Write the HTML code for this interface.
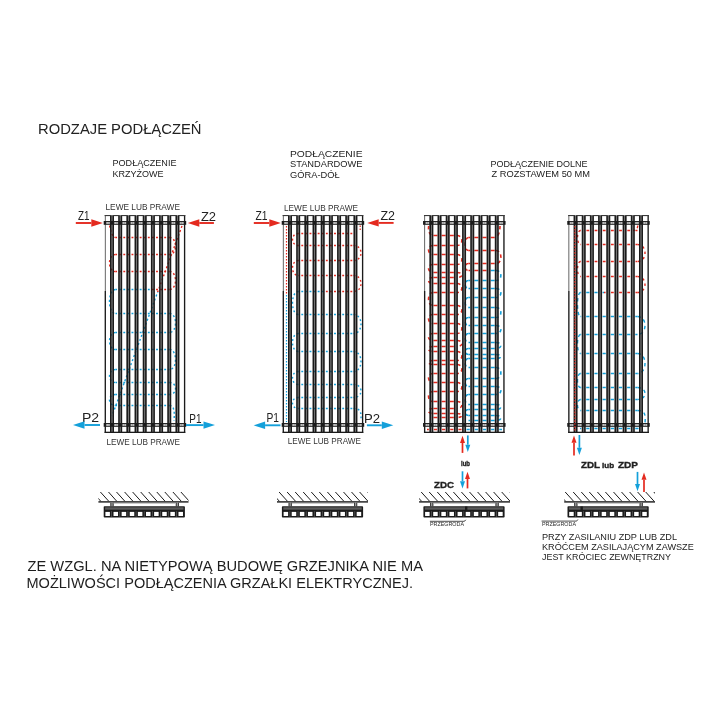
<!DOCTYPE html><html><head><meta charset="utf-8"><style>html,body{margin:0;padding:0;background:#fff;}svg{display:block;will-change:transform;}text{font-family:"Liberation Sans",sans-serif;}</style></head><body>
<svg width="720" height="720" viewBox="0 0 720 720">
<rect width="720" height="720" fill="#fff"/>
<text x="37.99" y="134.2" font-size="14.5" fill="#222" textLength="163.52" lengthAdjust="spacingAndGlyphs">RODZAJE PODŁĄCZEŃ</text>
<text x="112.49" y="165.8" font-size="8.7" fill="#222" textLength="64.01" lengthAdjust="spacingAndGlyphs">PODŁĄCZENIE</text>
<text x="112.47" y="176.8" font-size="8.7" fill="#222" textLength="51.04" lengthAdjust="spacingAndGlyphs">KRZYŻOWE</text>
<text x="289.98" y="156.5" font-size="8.5" fill="#222" textLength="72.53" lengthAdjust="spacingAndGlyphs">PODŁĄCZENIE</text>
<text x="289.99" y="167.25" font-size="8.5" fill="#222" textLength="72.51" lengthAdjust="spacingAndGlyphs">STANDARDOWE</text>
<text x="289.99" y="177.5" font-size="8.5" fill="#222" textLength="49.78" lengthAdjust="spacingAndGlyphs">GÓRA-DÓŁ</text>
<text x="490.49" y="166.7" font-size="8.6" fill="#222" textLength="97.01" lengthAdjust="spacingAndGlyphs">PODŁĄCZENIE DOLNE</text>
<text x="491.50" y="177.0" font-size="8.6" fill="#222" textLength="98.51" lengthAdjust="spacingAndGlyphs">Z ROZSTAWEM 50 MM</text>
<text x="105.49" y="209.9" font-size="8.3" fill="#333" textLength="74.52" lengthAdjust="spacingAndGlyphs">LEWE LUB PRAWE</text>
<text x="106.49" y="444.6" font-size="8.3" fill="#333" textLength="73.51" lengthAdjust="spacingAndGlyphs">LEWE LUB PRAWE</text>
<text x="284.00" y="210.5" font-size="8.3" fill="#333" textLength="74.00" lengthAdjust="spacingAndGlyphs">LEWE LUB PRAWE</text>
<text x="287.74" y="443.75" font-size="8.3" fill="#333" textLength="73.26" lengthAdjust="spacingAndGlyphs">LEWE LUB PRAWE</text>
<text x="78.00" y="220.3" font-size="12.2" fill="#222" textLength="11.53" lengthAdjust="spacingAndGlyphs">Z1</text>
<text x="200.93" y="220.7" font-size="12.2" fill="#222" textLength="15.12" lengthAdjust="spacingAndGlyphs">Z2</text>
<text x="81.90" y="421.7" font-size="12.2" fill="#222" textLength="17.19" lengthAdjust="spacingAndGlyphs">P2</text>
<text x="189.36" y="422.8" font-size="12.2" fill="#222" textLength="12.22" lengthAdjust="spacingAndGlyphs">P1</text>
<text x="255.48" y="219.9" font-size="12.2" fill="#222" textLength="12.03" lengthAdjust="spacingAndGlyphs">Z1</text>
<text x="380.47" y="219.6" font-size="12.2" fill="#222" textLength="14.53" lengthAdjust="spacingAndGlyphs">Z2</text>
<text x="266.42" y="421.7" font-size="12.2" fill="#222" textLength="12.55" lengthAdjust="spacingAndGlyphs">P1</text>
<text x="363.93" y="422.8" font-size="12.2" fill="#222" textLength="16.07" lengthAdjust="spacingAndGlyphs">P2</text>
<text x="461.00" y="465.5" font-size="6.6" font-weight="bold" stroke="#222" stroke-width="0.35" fill="#222" textLength="9.04" lengthAdjust="spacingAndGlyphs">lub</text>
<text x="434.00" y="488.4" font-size="9.4" font-weight="bold" stroke="#222" stroke-width="0.35" fill="#222" textLength="20.00" lengthAdjust="spacingAndGlyphs">ZDC</text>
<text x="581.00" y="468.1" font-size="9.2" font-weight="bold" stroke="#222" stroke-width="0.35" fill="#222" textLength="19.03" lengthAdjust="spacingAndGlyphs">ZDL</text>
<text x="602.00" y="468.1" font-size="7.6" font-weight="bold" stroke="#222" stroke-width="0.35" fill="#222" textLength="12.05" lengthAdjust="spacingAndGlyphs">lub</text>
<text x="618.00" y="468.1" font-size="9.2" font-weight="bold" stroke="#222" stroke-width="0.35" fill="#222" textLength="20.00" lengthAdjust="spacingAndGlyphs">ZDP</text>
<text x="429.99" y="525.6" font-size="5.9" fill="#2a2a2a" textLength="34.01" lengthAdjust="spacingAndGlyphs">PRZEGRODA</text>
<text x="541.97" y="525.6" font-size="5.9" fill="#2a2a2a" textLength="34.04" lengthAdjust="spacingAndGlyphs">PRZEGRODA</text>
<text x="541.99" y="539.5" font-size="9.0" fill="#222" textLength="135.02" lengthAdjust="spacingAndGlyphs">PRZY ZASILANIU ZDP LUB ZDL</text>
<text x="542.00" y="549.6" font-size="9.0" fill="#222" textLength="151.75" lengthAdjust="spacingAndGlyphs">KRÓĆCEM ZASILAJĄCYM ZAWSZE</text>
<text x="542.00" y="559.6" font-size="9.0" fill="#222" textLength="129.00" lengthAdjust="spacingAndGlyphs">JEST KRÓCIEC ZEWNĘTRZNY</text>
<text x="27.50" y="570.7" font-size="14.2" fill="#1e1e1e" textLength="395.50" lengthAdjust="spacingAndGlyphs">ZE WZGL. NA NIETYPOWĄ BUDOWĘ GRZEJNIKA NIE MA</text>
<text x="26.50" y="587.5" font-size="14.2" fill="#1e1e1e" textLength="386.51" lengthAdjust="spacingAndGlyphs">MOŻLIWOŚCI PODŁĄCZENIA GRZAŁKI ELEKTRYCZNEJ.</text>
<path d="M429.9,521.3 H464 Q465,521.3 465.8,519.8" stroke="#3a3a3a" stroke-width="0.9" fill="none"/>
<path d="M541.6,521.1 H576.2 Q577.2,521.1 577.9,519.5" stroke="#3a3a3a" stroke-width="0.9" fill="none"/>
<clipPath id="r1red"><rect x="0" y="0" width="720" height="288"/><rect x="150" y="288" width="60" height="4"/></clipPath>
<clipPath id="r1blue"><rect x="0" y="292" width="720" height="200"/><rect x="100" y="286" width="50" height="6"/></clipPath>
<g clip-path="url(#r1red)"><path d="M115.5,237.5 H169.5" fill="none" stroke="#e42a1f" stroke-width="1.4" stroke-dasharray="1.9 2.19" stroke-dashoffset="0.36"/><path d="M115.5,254.5 H169.5" fill="none" stroke="#e42a1f" stroke-width="1.4" stroke-dasharray="1.9 2.19" stroke-dashoffset="0.36"/><path d="M115.5,271.5 H169.5" fill="none" stroke="#e42a1f" stroke-width="1.4" stroke-dasharray="1.9 2.19" stroke-dashoffset="0.36"/><path d="M115.5,289.5 H169.5" fill="none" stroke="#e42a1f" stroke-width="1.4" stroke-dasharray="1.9 2.19" stroke-dashoffset="0.36"/><path d="M115.5,313.5 H169.5" fill="none" stroke="#e42a1f" stroke-width="1.4" stroke-dasharray="1.9 2.19" stroke-dashoffset="0.36"/><path d="M115.5,332.5 H169.5" fill="none" stroke="#e42a1f" stroke-width="1.4" stroke-dasharray="1.9 2.19" stroke-dashoffset="0.36"/><path d="M115.5,349.5 H169.5" fill="none" stroke="#e42a1f" stroke-width="1.4" stroke-dasharray="1.9 2.19" stroke-dashoffset="0.36"/><path d="M115.5,369.5 H169.5" fill="none" stroke="#e42a1f" stroke-width="1.4" stroke-dasharray="1.9 2.19" stroke-dashoffset="0.36"/><path d="M115.5,382.5 H169.5" fill="none" stroke="#e42a1f" stroke-width="1.4" stroke-dasharray="1.9 2.19" stroke-dashoffset="0.36"/><path d="M115.5,394.5 H169.5" fill="none" stroke="#e42a1f" stroke-width="1.4" stroke-dasharray="1.9 2.19" stroke-dashoffset="0.36"/><path d="M115.5,405.5 H169.5" fill="none" stroke="#e42a1f" stroke-width="1.4" stroke-dasharray="1.9 2.19" stroke-dashoffset="0.36"/><path d="M169.5,237.5 C177.5,237.5 177.5,254.5 169.5,254.5" fill="none" stroke="#e42a1f" stroke-width="1.4" stroke-dasharray="2 2.3"/><path d="M115.5,254.5 C107.5,254.5 107.5,271.5 115.5,271.5" fill="none" stroke="#e42a1f" stroke-width="1.4" stroke-dasharray="2 2.3"/><path d="M169.5,271.5 C177.5,271.5 177.5,289.5 169.5,289.5" fill="none" stroke="#e42a1f" stroke-width="1.4" stroke-dasharray="2 2.3"/><path d="M115.5,289.5 C107.5,289.5 107.5,313.5 115.5,313.5" fill="none" stroke="#e42a1f" stroke-width="1.4" stroke-dasharray="2 2.3"/><path d="M169.5,313.5 C177.5,313.5 177.5,332.5 169.5,332.5" fill="none" stroke="#e42a1f" stroke-width="1.4" stroke-dasharray="2 2.3"/><path d="M115.5,332.5 C107.5,332.5 107.5,349.5 115.5,349.5" fill="none" stroke="#e42a1f" stroke-width="1.4" stroke-dasharray="2 2.3"/><path d="M169.5,349.5 C177.5,349.5 177.5,369.5 169.5,369.5" fill="none" stroke="#e42a1f" stroke-width="1.4" stroke-dasharray="2 2.3"/><path d="M115.5,369.5 C107.5,369.5 107.5,382.5 115.5,382.5" fill="none" stroke="#e42a1f" stroke-width="1.4" stroke-dasharray="2 2.3"/><path d="M169.5,382.5 C177.5,382.5 177.5,394.5 169.5,394.5" fill="none" stroke="#e42a1f" stroke-width="1.4" stroke-dasharray="2 2.3"/><path d="M115.5,394.5 C107.5,394.5 107.5,405.5 115.5,405.5" fill="none" stroke="#e42a1f" stroke-width="1.4" stroke-dasharray="2 2.3"/><path d="M109.6,225.5 C111,233 113,237.5 115.5,237.5" fill="none" stroke="#e42a1f" stroke-width="1.4" stroke-dasharray="2 2.3"/><path d="M169.5,405.5 C175,405.5 174.5,414 174,421" fill="none" stroke="#e42a1f" stroke-width="1.4" stroke-dasharray="2 2.3"/><path d="M182,226 L112,416" fill="none" stroke="#e42a1f" stroke-width="1.4" stroke-dasharray="2 2.3"/></g>
<g clip-path="url(#r1blue)"><path d="M115.5,237.5 H169.5" fill="none" stroke="#14a0da" stroke-width="1.4" stroke-dasharray="1.9 2.19" stroke-dashoffset="0.36"/><path d="M115.5,254.5 H169.5" fill="none" stroke="#14a0da" stroke-width="1.4" stroke-dasharray="1.9 2.19" stroke-dashoffset="0.36"/><path d="M115.5,271.5 H169.5" fill="none" stroke="#14a0da" stroke-width="1.4" stroke-dasharray="1.9 2.19" stroke-dashoffset="0.36"/><path d="M115.5,289.5 H169.5" fill="none" stroke="#14a0da" stroke-width="1.4" stroke-dasharray="1.9 2.19" stroke-dashoffset="0.36"/><path d="M115.5,313.5 H169.5" fill="none" stroke="#14a0da" stroke-width="1.4" stroke-dasharray="1.9 2.19" stroke-dashoffset="0.36"/><path d="M115.5,332.5 H169.5" fill="none" stroke="#14a0da" stroke-width="1.4" stroke-dasharray="1.9 2.19" stroke-dashoffset="0.36"/><path d="M115.5,349.5 H169.5" fill="none" stroke="#14a0da" stroke-width="1.4" stroke-dasharray="1.9 2.19" stroke-dashoffset="0.36"/><path d="M115.5,369.5 H169.5" fill="none" stroke="#14a0da" stroke-width="1.4" stroke-dasharray="1.9 2.19" stroke-dashoffset="0.36"/><path d="M115.5,382.5 H169.5" fill="none" stroke="#14a0da" stroke-width="1.4" stroke-dasharray="1.9 2.19" stroke-dashoffset="0.36"/><path d="M115.5,394.5 H169.5" fill="none" stroke="#14a0da" stroke-width="1.4" stroke-dasharray="1.9 2.19" stroke-dashoffset="0.36"/><path d="M115.5,405.5 H169.5" fill="none" stroke="#14a0da" stroke-width="1.4" stroke-dasharray="1.9 2.19" stroke-dashoffset="0.36"/><path d="M169.5,237.5 C177.5,237.5 177.5,254.5 169.5,254.5" fill="none" stroke="#14a0da" stroke-width="1.4" stroke-dasharray="2 2.3"/><path d="M115.5,254.5 C107.5,254.5 107.5,271.5 115.5,271.5" fill="none" stroke="#14a0da" stroke-width="1.4" stroke-dasharray="2 2.3"/><path d="M169.5,271.5 C177.5,271.5 177.5,289.5 169.5,289.5" fill="none" stroke="#14a0da" stroke-width="1.4" stroke-dasharray="2 2.3"/><path d="M115.5,289.5 C107.5,289.5 107.5,313.5 115.5,313.5" fill="none" stroke="#14a0da" stroke-width="1.4" stroke-dasharray="2 2.3"/><path d="M169.5,313.5 C177.5,313.5 177.5,332.5 169.5,332.5" fill="none" stroke="#14a0da" stroke-width="1.4" stroke-dasharray="2 2.3"/><path d="M115.5,332.5 C107.5,332.5 107.5,349.5 115.5,349.5" fill="none" stroke="#14a0da" stroke-width="1.4" stroke-dasharray="2 2.3"/><path d="M169.5,349.5 C177.5,349.5 177.5,369.5 169.5,369.5" fill="none" stroke="#14a0da" stroke-width="1.4" stroke-dasharray="2 2.3"/><path d="M115.5,369.5 C107.5,369.5 107.5,382.5 115.5,382.5" fill="none" stroke="#14a0da" stroke-width="1.4" stroke-dasharray="2 2.3"/><path d="M169.5,382.5 C177.5,382.5 177.5,394.5 169.5,394.5" fill="none" stroke="#14a0da" stroke-width="1.4" stroke-dasharray="2 2.3"/><path d="M115.5,394.5 C107.5,394.5 107.5,405.5 115.5,405.5" fill="none" stroke="#14a0da" stroke-width="1.4" stroke-dasharray="2 2.3"/><path d="M109.6,225.5 C111,233 113,237.5 115.5,237.5" fill="none" stroke="#14a0da" stroke-width="1.4" stroke-dasharray="2 2.3"/><path d="M169.5,405.5 C175,405.5 174.5,414 174,421" fill="none" stroke="#14a0da" stroke-width="1.4" stroke-dasharray="2 2.3"/><path d="M182,226 L112,416" fill="none" stroke="#14a0da" stroke-width="1.4" stroke-dasharray="2 2.3"/></g>
<clipPath id="r2red"><rect x="0" y="0" width="720" height="289"/><rect x="325" y="289" width="60" height="5"/></clipPath>
<clipPath id="r2blue"><rect x="0" y="294" width="720" height="200"/><rect x="250" y="289" width="75" height="5"/></clipPath>
<g clip-path="url(#r2red)"><path d="M298.5,233.5 H353.5" fill="none" stroke="#e42a1f" stroke-width="1.4" stroke-dasharray="1.9 2.19" stroke-dashoffset="1.27"/><path d="M298.5,245.5 H353.5" fill="none" stroke="#e42a1f" stroke-width="1.4" stroke-dasharray="1.9 2.19" stroke-dashoffset="1.27"/><path d="M298.5,260.5 H353.5" fill="none" stroke="#e42a1f" stroke-width="1.4" stroke-dasharray="1.9 2.19" stroke-dashoffset="1.27"/><path d="M298.5,275.5 H353.5" fill="none" stroke="#e42a1f" stroke-width="1.4" stroke-dasharray="1.9 2.19" stroke-dashoffset="1.27"/><path d="M298.5,291.5 H353.5" fill="none" stroke="#e42a1f" stroke-width="1.4" stroke-dasharray="1.9 2.19" stroke-dashoffset="1.27"/><path d="M298.5,314.5 H353.5" fill="none" stroke="#e42a1f" stroke-width="1.4" stroke-dasharray="1.9 2.19" stroke-dashoffset="1.27"/><path d="M298.5,333.5 H353.5" fill="none" stroke="#e42a1f" stroke-width="1.4" stroke-dasharray="1.9 2.19" stroke-dashoffset="1.27"/><path d="M298.5,351.5 H353.5" fill="none" stroke="#e42a1f" stroke-width="1.4" stroke-dasharray="1.9 2.19" stroke-dashoffset="1.27"/><path d="M298.5,371.5 H353.5" fill="none" stroke="#e42a1f" stroke-width="1.4" stroke-dasharray="1.9 2.19" stroke-dashoffset="1.27"/><path d="M298.5,384.5 H353.5" fill="none" stroke="#e42a1f" stroke-width="1.4" stroke-dasharray="1.9 2.19" stroke-dashoffset="1.27"/><path d="M298.5,397.5 H353.5" fill="none" stroke="#e42a1f" stroke-width="1.4" stroke-dasharray="1.9 2.19" stroke-dashoffset="1.27"/><path d="M298.5,408.5 H353.5" fill="none" stroke="#e42a1f" stroke-width="1.4" stroke-dasharray="1.9 2.19" stroke-dashoffset="1.27"/><path d="M298.5,233.5 C290.5,233.5 290.5,245.5 298.5,245.5" fill="none" stroke="#e42a1f" stroke-width="1.4" stroke-dasharray="1.8 2.5"/><path d="M353.5,245.5 C363.5,245.5 363.5,260.5 353.5,260.5" fill="none" stroke="#e42a1f" stroke-width="1.4" stroke-dasharray="1.8 2.5"/><path d="M298.5,260.5 C290.5,260.5 290.5,275.5 298.5,275.5" fill="none" stroke="#e42a1f" stroke-width="1.4" stroke-dasharray="1.8 2.5"/><path d="M353.5,275.5 C363.5,275.5 363.5,291.5 353.5,291.5" fill="none" stroke="#e42a1f" stroke-width="1.4" stroke-dasharray="1.8 2.5"/><path d="M298.5,291.5 C290.5,291.5 290.5,314.5 298.5,314.5" fill="none" stroke="#e42a1f" stroke-width="1.4" stroke-dasharray="1.8 2.5"/><path d="M353.5,314.5 C363.5,314.5 363.5,333.5 353.5,333.5" fill="none" stroke="#e42a1f" stroke-width="1.4" stroke-dasharray="1.8 2.5"/><path d="M298.5,333.5 C290.5,333.5 290.5,351.5 298.5,351.5" fill="none" stroke="#e42a1f" stroke-width="1.4" stroke-dasharray="1.8 2.5"/><path d="M353.5,351.5 C363.5,351.5 363.5,371.5 353.5,371.5" fill="none" stroke="#e42a1f" stroke-width="1.4" stroke-dasharray="1.8 2.5"/><path d="M298.5,371.5 C290.5,371.5 290.5,384.5 298.5,384.5" fill="none" stroke="#e42a1f" stroke-width="1.4" stroke-dasharray="1.8 2.5"/><path d="M353.5,384.5 C363.5,384.5 363.5,397.5 353.5,397.5" fill="none" stroke="#e42a1f" stroke-width="1.4" stroke-dasharray="1.8 2.5"/><path d="M298.5,397.5 C290.5,397.5 290.5,408.5 298.5,408.5" fill="none" stroke="#e42a1f" stroke-width="1.4" stroke-dasharray="1.8 2.5"/><path d="M353.5,408.5 C362,408.5 361,414 361,421" fill="none" stroke="#e42a1f" stroke-width="1.4" stroke-dasharray="1.8 2.5"/><path d="M360.2,225.5 V230" fill="none" stroke="#e42a1f" stroke-width="1.2" stroke-dasharray="1.6 1.4"/></g>
<g clip-path="url(#r2blue)"><path d="M298.5,233.5 H353.5" fill="none" stroke="#14a0da" stroke-width="1.4" stroke-dasharray="1.9 2.19" stroke-dashoffset="1.27"/><path d="M298.5,245.5 H353.5" fill="none" stroke="#14a0da" stroke-width="1.4" stroke-dasharray="1.9 2.19" stroke-dashoffset="1.27"/><path d="M298.5,260.5 H353.5" fill="none" stroke="#14a0da" stroke-width="1.4" stroke-dasharray="1.9 2.19" stroke-dashoffset="1.27"/><path d="M298.5,275.5 H353.5" fill="none" stroke="#14a0da" stroke-width="1.4" stroke-dasharray="1.9 2.19" stroke-dashoffset="1.27"/><path d="M298.5,291.5 H353.5" fill="none" stroke="#14a0da" stroke-width="1.4" stroke-dasharray="1.9 2.19" stroke-dashoffset="1.27"/><path d="M298.5,314.5 H353.5" fill="none" stroke="#14a0da" stroke-width="1.4" stroke-dasharray="1.9 2.19" stroke-dashoffset="1.27"/><path d="M298.5,333.5 H353.5" fill="none" stroke="#14a0da" stroke-width="1.4" stroke-dasharray="1.9 2.19" stroke-dashoffset="1.27"/><path d="M298.5,351.5 H353.5" fill="none" stroke="#14a0da" stroke-width="1.4" stroke-dasharray="1.9 2.19" stroke-dashoffset="1.27"/><path d="M298.5,371.5 H353.5" fill="none" stroke="#14a0da" stroke-width="1.4" stroke-dasharray="1.9 2.19" stroke-dashoffset="1.27"/><path d="M298.5,384.5 H353.5" fill="none" stroke="#14a0da" stroke-width="1.4" stroke-dasharray="1.9 2.19" stroke-dashoffset="1.27"/><path d="M298.5,397.5 H353.5" fill="none" stroke="#14a0da" stroke-width="1.4" stroke-dasharray="1.9 2.19" stroke-dashoffset="1.27"/><path d="M298.5,408.5 H353.5" fill="none" stroke="#14a0da" stroke-width="1.4" stroke-dasharray="1.9 2.19" stroke-dashoffset="1.27"/><path d="M298.5,233.5 C290.5,233.5 290.5,245.5 298.5,245.5" fill="none" stroke="#14a0da" stroke-width="1.4" stroke-dasharray="1.8 2.5"/><path d="M353.5,245.5 C363.5,245.5 363.5,260.5 353.5,260.5" fill="none" stroke="#14a0da" stroke-width="1.4" stroke-dasharray="1.8 2.5"/><path d="M298.5,260.5 C290.5,260.5 290.5,275.5 298.5,275.5" fill="none" stroke="#14a0da" stroke-width="1.4" stroke-dasharray="1.8 2.5"/><path d="M353.5,275.5 C363.5,275.5 363.5,291.5 353.5,291.5" fill="none" stroke="#14a0da" stroke-width="1.4" stroke-dasharray="1.8 2.5"/><path d="M298.5,291.5 C290.5,291.5 290.5,314.5 298.5,314.5" fill="none" stroke="#14a0da" stroke-width="1.4" stroke-dasharray="1.8 2.5"/><path d="M353.5,314.5 C363.5,314.5 363.5,333.5 353.5,333.5" fill="none" stroke="#14a0da" stroke-width="1.4" stroke-dasharray="1.8 2.5"/><path d="M298.5,333.5 C290.5,333.5 290.5,351.5 298.5,351.5" fill="none" stroke="#14a0da" stroke-width="1.4" stroke-dasharray="1.8 2.5"/><path d="M353.5,351.5 C363.5,351.5 363.5,371.5 353.5,371.5" fill="none" stroke="#14a0da" stroke-width="1.4" stroke-dasharray="1.8 2.5"/><path d="M298.5,371.5 C290.5,371.5 290.5,384.5 298.5,384.5" fill="none" stroke="#14a0da" stroke-width="1.4" stroke-dasharray="1.8 2.5"/><path d="M353.5,384.5 C363.5,384.5 363.5,397.5 353.5,397.5" fill="none" stroke="#14a0da" stroke-width="1.4" stroke-dasharray="1.8 2.5"/><path d="M298.5,397.5 C290.5,397.5 290.5,408.5 298.5,408.5" fill="none" stroke="#14a0da" stroke-width="1.4" stroke-dasharray="1.8 2.5"/><path d="M353.5,408.5 C362,408.5 361,414 361,421" fill="none" stroke="#14a0da" stroke-width="1.4" stroke-dasharray="1.8 2.5"/></g>
<path d="M286.5,226 V295" fill="none" stroke="#e42a1f" stroke-width="1.2" stroke-dasharray="1.6 1.4"/>
<path d="M286.5,295 V422" fill="none" stroke="#14a0da" stroke-width="1.2" stroke-dasharray="1.6 1.4"/>
<path d="M433.0,235.5 H457.0" fill="none" stroke="#e42a1f" stroke-width="1.6" stroke-dasharray="4.0 4.18" stroke-dashoffset="7.74"/><path d="M433.0,245.5 H457.0" fill="none" stroke="#e42a1f" stroke-width="1.6" stroke-dasharray="4.0 4.18" stroke-dashoffset="7.74"/><path d="M433.0,254.5 H457.0" fill="none" stroke="#e42a1f" stroke-width="1.6" stroke-dasharray="4.0 4.18" stroke-dashoffset="7.74"/><path d="M433.0,264.5 H457.0" fill="none" stroke="#e42a1f" stroke-width="1.6" stroke-dasharray="4.0 4.18" stroke-dashoffset="7.74"/><path d="M433.0,272.5 H457.0" fill="none" stroke="#e42a1f" stroke-width="1.6" stroke-dasharray="4.0 4.18" stroke-dashoffset="7.74"/><path d="M433.0,277.5 H457.0" fill="none" stroke="#e42a1f" stroke-width="1.6" stroke-dasharray="4.0 4.18" stroke-dashoffset="7.74"/><path d="M433.0,283.5 H457.0" fill="none" stroke="#e42a1f" stroke-width="1.6" stroke-dasharray="4.0 4.18" stroke-dashoffset="7.74"/><path d="M433.0,292.5 H457.0" fill="none" stroke="#e42a1f" stroke-width="1.6" stroke-dasharray="4.0 4.18" stroke-dashoffset="7.74"/><path d="M433.0,305.5 H457.0" fill="none" stroke="#e42a1f" stroke-width="1.6" stroke-dasharray="4.0 4.18" stroke-dashoffset="7.74"/><path d="M433.0,314.5 H457.0" fill="none" stroke="#e42a1f" stroke-width="1.6" stroke-dasharray="4.0 4.18" stroke-dashoffset="7.74"/><path d="M433.0,323.5 H457.0" fill="none" stroke="#e42a1f" stroke-width="1.6" stroke-dasharray="4.0 4.18" stroke-dashoffset="7.74"/><path d="M433.0,333.5 H457.0" fill="none" stroke="#e42a1f" stroke-width="1.6" stroke-dasharray="4.0 4.18" stroke-dashoffset="7.74"/><path d="M433.0,340.5 H457.0" fill="none" stroke="#e42a1f" stroke-width="1.6" stroke-dasharray="4.0 4.18" stroke-dashoffset="7.74"/><path d="M433.0,346.5 H457.0" fill="none" stroke="#e42a1f" stroke-width="1.6" stroke-dasharray="4.0 4.18" stroke-dashoffset="7.74"/><path d="M433.0,351.5 H457.0" fill="none" stroke="#e42a1f" stroke-width="1.6" stroke-dasharray="4.0 4.18" stroke-dashoffset="7.74"/><path d="M433.0,360.5 H457.0" fill="none" stroke="#e42a1f" stroke-width="1.6" stroke-dasharray="4.0 4.18" stroke-dashoffset="7.74"/><path d="M433.0,364.5 H457.0" fill="none" stroke="#e42a1f" stroke-width="1.6" stroke-dasharray="4.0 4.18" stroke-dashoffset="7.74"/><path d="M433.0,373.5 H457.0" fill="none" stroke="#e42a1f" stroke-width="1.6" stroke-dasharray="4.0 4.18" stroke-dashoffset="7.74"/><path d="M433.0,382.5 H457.0" fill="none" stroke="#e42a1f" stroke-width="1.6" stroke-dasharray="4.0 4.18" stroke-dashoffset="7.74"/><path d="M433.0,391.5 H457.0" fill="none" stroke="#e42a1f" stroke-width="1.6" stroke-dasharray="4.0 4.18" stroke-dashoffset="7.74"/><path d="M433.0,401.5 H457.0" fill="none" stroke="#e42a1f" stroke-width="1.6" stroke-dasharray="4.0 4.18" stroke-dashoffset="7.74"/><path d="M433.0,408.5 H457.0" fill="none" stroke="#e42a1f" stroke-width="1.6" stroke-dasharray="4.0 4.18" stroke-dashoffset="7.74"/><path d="M433.0,413.5 H457.0" fill="none" stroke="#e42a1f" stroke-width="1.6" stroke-dasharray="4.0 4.18" stroke-dashoffset="7.74"/><path d="M433.0,417.5 H457.0" fill="none" stroke="#e42a1f" stroke-width="1.6" stroke-dasharray="4.0 4.18" stroke-dashoffset="7.74"/><path d="M457.0,235.5 C463.5,235.5 463.5,245.5 457.0,245.5" fill="none" stroke="#e42a1f" stroke-width="1.6" stroke-dasharray="3.4 3.0"/><path d="M433.0,245.5 C427.0,245.5 427.0,254.5 433.0,254.5" fill="none" stroke="#e42a1f" stroke-width="1.6" stroke-dasharray="3.4 3.0"/><path d="M457.0,254.5 C463.5,254.5 463.5,264.5 457.0,264.5" fill="none" stroke="#e42a1f" stroke-width="1.6" stroke-dasharray="3.4 3.0"/><path d="M433.0,264.5 C427.0,264.5 427.0,272.5 433.0,272.5" fill="none" stroke="#e42a1f" stroke-width="1.6" stroke-dasharray="3.4 3.0"/><path d="M457.0,272.5 C463.5,272.5 463.5,277.5 457.0,277.5" fill="none" stroke="#e42a1f" stroke-width="1.6" stroke-dasharray="3.4 3.0"/><path d="M433.0,277.5 C427.0,277.5 427.0,283.5 433.0,283.5" fill="none" stroke="#e42a1f" stroke-width="1.6" stroke-dasharray="3.4 3.0"/><path d="M457.0,283.5 C463.5,283.5 463.5,292.5 457.0,292.5" fill="none" stroke="#e42a1f" stroke-width="1.6" stroke-dasharray="3.4 3.0"/><path d="M433.0,292.5 C427.0,292.5 427.0,305.5 433.0,305.5" fill="none" stroke="#e42a1f" stroke-width="1.6" stroke-dasharray="3.4 3.0"/><path d="M457.0,305.5 C463.5,305.5 463.5,314.5 457.0,314.5" fill="none" stroke="#e42a1f" stroke-width="1.6" stroke-dasharray="3.4 3.0"/><path d="M433.0,314.5 C427.0,314.5 427.0,323.5 433.0,323.5" fill="none" stroke="#e42a1f" stroke-width="1.6" stroke-dasharray="3.4 3.0"/><path d="M457.0,323.5 C463.5,323.5 463.5,333.5 457.0,333.5" fill="none" stroke="#e42a1f" stroke-width="1.6" stroke-dasharray="3.4 3.0"/><path d="M433.0,333.5 C427.0,333.5 427.0,340.5 433.0,340.5" fill="none" stroke="#e42a1f" stroke-width="1.6" stroke-dasharray="3.4 3.0"/><path d="M457.0,340.5 C463.5,340.5 463.5,346.5 457.0,346.5" fill="none" stroke="#e42a1f" stroke-width="1.6" stroke-dasharray="3.4 3.0"/><path d="M433.0,346.5 C427.0,346.5 427.0,351.5 433.0,351.5" fill="none" stroke="#e42a1f" stroke-width="1.6" stroke-dasharray="3.4 3.0"/><path d="M457.0,351.5 C463.5,351.5 463.5,360.5 457.0,360.5" fill="none" stroke="#e42a1f" stroke-width="1.6" stroke-dasharray="3.4 3.0"/><path d="M433.0,360.5 C427.0,360.5 427.0,364.5 433.0,364.5" fill="none" stroke="#e42a1f" stroke-width="1.6" stroke-dasharray="3.4 3.0"/><path d="M457.0,364.5 C463.5,364.5 463.5,373.5 457.0,373.5" fill="none" stroke="#e42a1f" stroke-width="1.6" stroke-dasharray="3.4 3.0"/><path d="M433.0,373.5 C427.0,373.5 427.0,382.5 433.0,382.5" fill="none" stroke="#e42a1f" stroke-width="1.6" stroke-dasharray="3.4 3.0"/><path d="M457.0,382.5 C463.5,382.5 463.5,391.5 457.0,391.5" fill="none" stroke="#e42a1f" stroke-width="1.6" stroke-dasharray="3.4 3.0"/><path d="M433.0,391.5 C427.0,391.5 427.0,401.5 433.0,401.5" fill="none" stroke="#e42a1f" stroke-width="1.6" stroke-dasharray="3.4 3.0"/><path d="M457.0,401.5 C463.5,401.5 463.5,408.5 457.0,408.5" fill="none" stroke="#e42a1f" stroke-width="1.6" stroke-dasharray="3.4 3.0"/><path d="M433.0,408.5 C427.0,408.5 427.0,413.5 433.0,413.5" fill="none" stroke="#e42a1f" stroke-width="1.6" stroke-dasharray="3.4 3.0"/><path d="M457.0,413.5 C463.5,413.5 463.5,417.5 457.0,417.5" fill="none" stroke="#e42a1f" stroke-width="1.6" stroke-dasharray="3.4 3.0"/><path d="M428.7,226 C428,230 429,235.5 433,235.5" fill="none" stroke="#e42a1f" stroke-width="1.6" stroke-dasharray="3.4 3.0"/>
<clipPath id="r3red"><rect x="0" y="0" width="720" height="268"/><rect x="0" y="268" width="488" height="5"/></clipPath>
<clipPath id="r3blue"><rect x="0" y="273" width="720" height="200"/><rect x="488" y="268" width="100" height="5"/></clipPath>
<g clip-path="url(#r3red)"><path d="M468.5,237.5 H496.0" fill="none" stroke="#e42a1f" stroke-width="1.6" stroke-dasharray="4.0 4.18" stroke-dashoffset="2.34"/><path d="M468.5,250.5 H496.0" fill="none" stroke="#e42a1f" stroke-width="1.6" stroke-dasharray="4.0 4.18" stroke-dashoffset="2.34"/><path d="M468.5,263.5 H496.0" fill="none" stroke="#e42a1f" stroke-width="1.6" stroke-dasharray="4.0 4.18" stroke-dashoffset="2.34"/><path d="M468.5,270.5 H496.0" fill="none" stroke="#e42a1f" stroke-width="1.6" stroke-dasharray="4.0 4.18" stroke-dashoffset="2.34"/><path d="M468.5,280.5 H496.0" fill="none" stroke="#e42a1f" stroke-width="1.6" stroke-dasharray="4.0 4.18" stroke-dashoffset="2.34"/><path d="M468.5,288.5 H496.0" fill="none" stroke="#e42a1f" stroke-width="1.6" stroke-dasharray="4.0 4.18" stroke-dashoffset="2.34"/><path d="M468.5,297.5 H496.0" fill="none" stroke="#e42a1f" stroke-width="1.6" stroke-dasharray="4.0 4.18" stroke-dashoffset="2.34"/><path d="M468.5,307.5 H496.0" fill="none" stroke="#e42a1f" stroke-width="1.6" stroke-dasharray="4.0 4.18" stroke-dashoffset="2.34"/><path d="M468.5,317.5 H496.0" fill="none" stroke="#e42a1f" stroke-width="1.6" stroke-dasharray="4.0 4.18" stroke-dashoffset="2.34"/><path d="M468.5,325.5 H496.0" fill="none" stroke="#e42a1f" stroke-width="1.6" stroke-dasharray="4.0 4.18" stroke-dashoffset="2.34"/><path d="M468.5,333.5 H496.0" fill="none" stroke="#e42a1f" stroke-width="1.6" stroke-dasharray="4.0 4.18" stroke-dashoffset="2.34"/><path d="M468.5,342.5 H496.0" fill="none" stroke="#e42a1f" stroke-width="1.6" stroke-dasharray="4.0 4.18" stroke-dashoffset="2.34"/><path d="M468.5,348.5 H496.0" fill="none" stroke="#e42a1f" stroke-width="1.6" stroke-dasharray="4.0 4.18" stroke-dashoffset="2.34"/><path d="M468.5,354.5 H496.0" fill="none" stroke="#e42a1f" stroke-width="1.6" stroke-dasharray="4.0 4.18" stroke-dashoffset="2.34"/><path d="M468.5,358.5 H496.0" fill="none" stroke="#e42a1f" stroke-width="1.6" stroke-dasharray="4.0 4.18" stroke-dashoffset="2.34"/><path d="M468.5,367.5 H496.0" fill="none" stroke="#e42a1f" stroke-width="1.6" stroke-dasharray="4.0 4.18" stroke-dashoffset="2.34"/><path d="M468.5,378.5 H496.0" fill="none" stroke="#e42a1f" stroke-width="1.6" stroke-dasharray="4.0 4.18" stroke-dashoffset="2.34"/><path d="M468.5,386.5 H496.0" fill="none" stroke="#e42a1f" stroke-width="1.6" stroke-dasharray="4.0 4.18" stroke-dashoffset="2.34"/><path d="M468.5,394.5 H496.0" fill="none" stroke="#e42a1f" stroke-width="1.6" stroke-dasharray="4.0 4.18" stroke-dashoffset="2.34"/><path d="M468.5,404.5 H496.0" fill="none" stroke="#e42a1f" stroke-width="1.6" stroke-dasharray="4.0 4.18" stroke-dashoffset="2.34"/><path d="M468.5,409.5 H496.0" fill="none" stroke="#e42a1f" stroke-width="1.6" stroke-dasharray="4.0 4.18" stroke-dashoffset="2.34"/><path d="M468.5,415.5 H496.0" fill="none" stroke="#e42a1f" stroke-width="1.6" stroke-dasharray="4.0 4.18" stroke-dashoffset="2.34"/><path d="M468.5,420.5 H496.0" fill="none" stroke="#e42a1f" stroke-width="1.6" stroke-dasharray="4.0 4.18" stroke-dashoffset="2.34"/><path d="M468.5,237.5 C464.0,237.5 464.0,250.5 468.5,250.5" fill="none" stroke="#e42a1f" stroke-width="1.6" stroke-dasharray="3.4 3.0"/><path d="M496.0,250.5 C502.5,250.5 502.5,263.5 496.0,263.5" fill="none" stroke="#e42a1f" stroke-width="1.6" stroke-dasharray="3.4 3.0"/><path d="M468.5,263.5 C464.0,263.5 464.0,270.5 468.5,270.5" fill="none" stroke="#e42a1f" stroke-width="1.6" stroke-dasharray="3.4 3.0"/><path d="M496.0,270.5 C502.5,270.5 502.5,280.5 496.0,280.5" fill="none" stroke="#e42a1f" stroke-width="1.6" stroke-dasharray="3.4 3.0"/><path d="M468.5,280.5 C464.0,280.5 464.0,288.5 468.5,288.5" fill="none" stroke="#e42a1f" stroke-width="1.6" stroke-dasharray="3.4 3.0"/><path d="M496.0,288.5 C502.5,288.5 502.5,297.5 496.0,297.5" fill="none" stroke="#e42a1f" stroke-width="1.6" stroke-dasharray="3.4 3.0"/><path d="M468.5,297.5 C464.0,297.5 464.0,307.5 468.5,307.5" fill="none" stroke="#e42a1f" stroke-width="1.6" stroke-dasharray="3.4 3.0"/><path d="M496.0,307.5 C502.5,307.5 502.5,317.5 496.0,317.5" fill="none" stroke="#e42a1f" stroke-width="1.6" stroke-dasharray="3.4 3.0"/><path d="M468.5,317.5 C464.0,317.5 464.0,325.5 468.5,325.5" fill="none" stroke="#e42a1f" stroke-width="1.6" stroke-dasharray="3.4 3.0"/><path d="M496.0,325.5 C502.5,325.5 502.5,333.5 496.0,333.5" fill="none" stroke="#e42a1f" stroke-width="1.6" stroke-dasharray="3.4 3.0"/><path d="M468.5,333.5 C464.0,333.5 464.0,342.5 468.5,342.5" fill="none" stroke="#e42a1f" stroke-width="1.6" stroke-dasharray="3.4 3.0"/><path d="M496.0,342.5 C502.5,342.5 502.5,348.5 496.0,348.5" fill="none" stroke="#e42a1f" stroke-width="1.6" stroke-dasharray="3.4 3.0"/><path d="M468.5,348.5 C464.0,348.5 464.0,354.5 468.5,354.5" fill="none" stroke="#e42a1f" stroke-width="1.6" stroke-dasharray="3.4 3.0"/><path d="M496.0,354.5 C502.5,354.5 502.5,358.5 496.0,358.5" fill="none" stroke="#e42a1f" stroke-width="1.6" stroke-dasharray="3.4 3.0"/><path d="M468.5,358.5 C464.0,358.5 464.0,367.5 468.5,367.5" fill="none" stroke="#e42a1f" stroke-width="1.6" stroke-dasharray="3.4 3.0"/><path d="M496.0,367.5 C502.5,367.5 502.5,378.5 496.0,378.5" fill="none" stroke="#e42a1f" stroke-width="1.6" stroke-dasharray="3.4 3.0"/><path d="M468.5,378.5 C464.0,378.5 464.0,386.5 468.5,386.5" fill="none" stroke="#e42a1f" stroke-width="1.6" stroke-dasharray="3.4 3.0"/><path d="M496.0,386.5 C502.5,386.5 502.5,394.5 496.0,394.5" fill="none" stroke="#e42a1f" stroke-width="1.6" stroke-dasharray="3.4 3.0"/><path d="M468.5,394.5 C464.0,394.5 464.0,404.5 468.5,404.5" fill="none" stroke="#e42a1f" stroke-width="1.6" stroke-dasharray="3.4 3.0"/><path d="M496.0,404.5 C502.5,404.5 502.5,409.5 496.0,409.5" fill="none" stroke="#e42a1f" stroke-width="1.6" stroke-dasharray="3.4 3.0"/><path d="M468.5,409.5 C464.0,409.5 464.0,415.5 468.5,415.5" fill="none" stroke="#e42a1f" stroke-width="1.6" stroke-dasharray="3.4 3.0"/><path d="M496.0,415.5 C502.5,415.5 502.5,420.5 496.0,420.5" fill="none" stroke="#e42a1f" stroke-width="1.6" stroke-dasharray="3.4 3.0"/><path d="M500,226 C500,232 498,237.5 495,237.5" fill="none" stroke="#e42a1f" stroke-width="1.6" stroke-dasharray="3.4 3.0"/></g>
<g clip-path="url(#r3blue)"><path d="M468.5,237.5 H496.0" fill="none" stroke="#14a0da" stroke-width="1.6" stroke-dasharray="4.0 4.18" stroke-dashoffset="2.34"/><path d="M468.5,250.5 H496.0" fill="none" stroke="#14a0da" stroke-width="1.6" stroke-dasharray="4.0 4.18" stroke-dashoffset="2.34"/><path d="M468.5,263.5 H496.0" fill="none" stroke="#14a0da" stroke-width="1.6" stroke-dasharray="4.0 4.18" stroke-dashoffset="2.34"/><path d="M468.5,270.5 H496.0" fill="none" stroke="#14a0da" stroke-width="1.6" stroke-dasharray="4.0 4.18" stroke-dashoffset="2.34"/><path d="M468.5,280.5 H496.0" fill="none" stroke="#14a0da" stroke-width="1.6" stroke-dasharray="4.0 4.18" stroke-dashoffset="2.34"/><path d="M468.5,288.5 H496.0" fill="none" stroke="#14a0da" stroke-width="1.6" stroke-dasharray="4.0 4.18" stroke-dashoffset="2.34"/><path d="M468.5,297.5 H496.0" fill="none" stroke="#14a0da" stroke-width="1.6" stroke-dasharray="4.0 4.18" stroke-dashoffset="2.34"/><path d="M468.5,307.5 H496.0" fill="none" stroke="#14a0da" stroke-width="1.6" stroke-dasharray="4.0 4.18" stroke-dashoffset="2.34"/><path d="M468.5,317.5 H496.0" fill="none" stroke="#14a0da" stroke-width="1.6" stroke-dasharray="4.0 4.18" stroke-dashoffset="2.34"/><path d="M468.5,325.5 H496.0" fill="none" stroke="#14a0da" stroke-width="1.6" stroke-dasharray="4.0 4.18" stroke-dashoffset="2.34"/><path d="M468.5,333.5 H496.0" fill="none" stroke="#14a0da" stroke-width="1.6" stroke-dasharray="4.0 4.18" stroke-dashoffset="2.34"/><path d="M468.5,342.5 H496.0" fill="none" stroke="#14a0da" stroke-width="1.6" stroke-dasharray="4.0 4.18" stroke-dashoffset="2.34"/><path d="M468.5,348.5 H496.0" fill="none" stroke="#14a0da" stroke-width="1.6" stroke-dasharray="4.0 4.18" stroke-dashoffset="2.34"/><path d="M468.5,354.5 H496.0" fill="none" stroke="#14a0da" stroke-width="1.6" stroke-dasharray="4.0 4.18" stroke-dashoffset="2.34"/><path d="M468.5,358.5 H496.0" fill="none" stroke="#14a0da" stroke-width="1.6" stroke-dasharray="4.0 4.18" stroke-dashoffset="2.34"/><path d="M468.5,367.5 H496.0" fill="none" stroke="#14a0da" stroke-width="1.6" stroke-dasharray="4.0 4.18" stroke-dashoffset="2.34"/><path d="M468.5,378.5 H496.0" fill="none" stroke="#14a0da" stroke-width="1.6" stroke-dasharray="4.0 4.18" stroke-dashoffset="2.34"/><path d="M468.5,386.5 H496.0" fill="none" stroke="#14a0da" stroke-width="1.6" stroke-dasharray="4.0 4.18" stroke-dashoffset="2.34"/><path d="M468.5,394.5 H496.0" fill="none" stroke="#14a0da" stroke-width="1.6" stroke-dasharray="4.0 4.18" stroke-dashoffset="2.34"/><path d="M468.5,404.5 H496.0" fill="none" stroke="#14a0da" stroke-width="1.6" stroke-dasharray="4.0 4.18" stroke-dashoffset="2.34"/><path d="M468.5,409.5 H496.0" fill="none" stroke="#14a0da" stroke-width="1.6" stroke-dasharray="4.0 4.18" stroke-dashoffset="2.34"/><path d="M468.5,415.5 H496.0" fill="none" stroke="#14a0da" stroke-width="1.6" stroke-dasharray="4.0 4.18" stroke-dashoffset="2.34"/><path d="M468.5,420.5 H496.0" fill="none" stroke="#14a0da" stroke-width="1.6" stroke-dasharray="4.0 4.18" stroke-dashoffset="2.34"/><path d="M468.5,237.5 C464.0,237.5 464.0,250.5 468.5,250.5" fill="none" stroke="#14a0da" stroke-width="1.6" stroke-dasharray="3.4 3.0"/><path d="M496.0,250.5 C502.5,250.5 502.5,263.5 496.0,263.5" fill="none" stroke="#14a0da" stroke-width="1.6" stroke-dasharray="3.4 3.0"/><path d="M468.5,263.5 C464.0,263.5 464.0,270.5 468.5,270.5" fill="none" stroke="#14a0da" stroke-width="1.6" stroke-dasharray="3.4 3.0"/><path d="M496.0,270.5 C502.5,270.5 502.5,280.5 496.0,280.5" fill="none" stroke="#14a0da" stroke-width="1.6" stroke-dasharray="3.4 3.0"/><path d="M468.5,280.5 C464.0,280.5 464.0,288.5 468.5,288.5" fill="none" stroke="#14a0da" stroke-width="1.6" stroke-dasharray="3.4 3.0"/><path d="M496.0,288.5 C502.5,288.5 502.5,297.5 496.0,297.5" fill="none" stroke="#14a0da" stroke-width="1.6" stroke-dasharray="3.4 3.0"/><path d="M468.5,297.5 C464.0,297.5 464.0,307.5 468.5,307.5" fill="none" stroke="#14a0da" stroke-width="1.6" stroke-dasharray="3.4 3.0"/><path d="M496.0,307.5 C502.5,307.5 502.5,317.5 496.0,317.5" fill="none" stroke="#14a0da" stroke-width="1.6" stroke-dasharray="3.4 3.0"/><path d="M468.5,317.5 C464.0,317.5 464.0,325.5 468.5,325.5" fill="none" stroke="#14a0da" stroke-width="1.6" stroke-dasharray="3.4 3.0"/><path d="M496.0,325.5 C502.5,325.5 502.5,333.5 496.0,333.5" fill="none" stroke="#14a0da" stroke-width="1.6" stroke-dasharray="3.4 3.0"/><path d="M468.5,333.5 C464.0,333.5 464.0,342.5 468.5,342.5" fill="none" stroke="#14a0da" stroke-width="1.6" stroke-dasharray="3.4 3.0"/><path d="M496.0,342.5 C502.5,342.5 502.5,348.5 496.0,348.5" fill="none" stroke="#14a0da" stroke-width="1.6" stroke-dasharray="3.4 3.0"/><path d="M468.5,348.5 C464.0,348.5 464.0,354.5 468.5,354.5" fill="none" stroke="#14a0da" stroke-width="1.6" stroke-dasharray="3.4 3.0"/><path d="M496.0,354.5 C502.5,354.5 502.5,358.5 496.0,358.5" fill="none" stroke="#14a0da" stroke-width="1.6" stroke-dasharray="3.4 3.0"/><path d="M468.5,358.5 C464.0,358.5 464.0,367.5 468.5,367.5" fill="none" stroke="#14a0da" stroke-width="1.6" stroke-dasharray="3.4 3.0"/><path d="M496.0,367.5 C502.5,367.5 502.5,378.5 496.0,378.5" fill="none" stroke="#14a0da" stroke-width="1.6" stroke-dasharray="3.4 3.0"/><path d="M468.5,378.5 C464.0,378.5 464.0,386.5 468.5,386.5" fill="none" stroke="#14a0da" stroke-width="1.6" stroke-dasharray="3.4 3.0"/><path d="M496.0,386.5 C502.5,386.5 502.5,394.5 496.0,394.5" fill="none" stroke="#14a0da" stroke-width="1.6" stroke-dasharray="3.4 3.0"/><path d="M468.5,394.5 C464.0,394.5 464.0,404.5 468.5,404.5" fill="none" stroke="#14a0da" stroke-width="1.6" stroke-dasharray="3.4 3.0"/><path d="M496.0,404.5 C502.5,404.5 502.5,409.5 496.0,409.5" fill="none" stroke="#14a0da" stroke-width="1.6" stroke-dasharray="3.4 3.0"/><path d="M468.5,409.5 C464.0,409.5 464.0,415.5 468.5,415.5" fill="none" stroke="#14a0da" stroke-width="1.6" stroke-dasharray="3.4 3.0"/><path d="M496.0,415.5 C502.5,415.5 502.5,420.5 496.0,420.5" fill="none" stroke="#14a0da" stroke-width="1.6" stroke-dasharray="3.4 3.0"/><path d="M500,226 C500,232 498,237.5 495,237.5" fill="none" stroke="#14a0da" stroke-width="1.6" stroke-dasharray="3.4 3.0"/></g>
<path d="M427.0,429.5 H462.0" fill="none" stroke="#e42a1f" stroke-width="1.4" stroke-dasharray="3.2 4.98" stroke-dashoffset="1.34"/>
<path d="M466.0,429.5 H502.0" fill="none" stroke="#14a0da" stroke-width="1.4" stroke-dasharray="3.2 4.98" stroke-dashoffset="7.62"/>
<clipPath id="r4red"><rect x="0" y="0" width="720" height="290"/><rect x="604" y="290" width="60" height="5"/></clipPath>
<clipPath id="r4blue"><rect x="0" y="295" width="720" height="200"/><rect x="560" y="290" width="44" height="5"/></clipPath>
<g clip-path="url(#r4red)"><path d="M580.5,230.5 H637.5" fill="none" stroke="#e42a1f" stroke-width="1.4" stroke-dasharray="2.8 5.38" stroke-dashoffset="2.26"/><path d="M580.5,244.5 H637.5" fill="none" stroke="#e42a1f" stroke-width="1.4" stroke-dasharray="2.8 5.38" stroke-dashoffset="2.26"/><path d="M580.5,261.5 H637.5" fill="none" stroke="#e42a1f" stroke-width="1.4" stroke-dasharray="2.8 5.38" stroke-dashoffset="2.26"/><path d="M580.5,276.5 H637.5" fill="none" stroke="#e42a1f" stroke-width="1.4" stroke-dasharray="2.8 5.38" stroke-dashoffset="2.26"/><path d="M580.5,292.5 H637.5" fill="none" stroke="#e42a1f" stroke-width="1.4" stroke-dasharray="2.8 5.38" stroke-dashoffset="2.26"/><path d="M580.5,316.5 H637.5" fill="none" stroke="#e42a1f" stroke-width="1.4" stroke-dasharray="2.8 5.38" stroke-dashoffset="2.26"/><path d="M580.5,334.5 H637.5" fill="none" stroke="#e42a1f" stroke-width="1.4" stroke-dasharray="2.8 5.38" stroke-dashoffset="2.26"/><path d="M580.5,353.5 H637.5" fill="none" stroke="#e42a1f" stroke-width="1.4" stroke-dasharray="2.8 5.38" stroke-dashoffset="2.26"/><path d="M580.5,373.5 H637.5" fill="none" stroke="#e42a1f" stroke-width="1.4" stroke-dasharray="2.8 5.38" stroke-dashoffset="2.26"/><path d="M580.5,387.5 H637.5" fill="none" stroke="#e42a1f" stroke-width="1.4" stroke-dasharray="2.8 5.38" stroke-dashoffset="2.26"/><path d="M580.5,399.5 H637.5" fill="none" stroke="#e42a1f" stroke-width="1.4" stroke-dasharray="2.8 5.38" stroke-dashoffset="2.26"/><path d="M580.5,410.5 H637.5" fill="none" stroke="#e42a1f" stroke-width="1.4" stroke-dasharray="2.8 5.38" stroke-dashoffset="2.26"/><path d="M580.5,230.5 C576.5,230.5 576.5,244.5 580.5,244.5" fill="none" stroke="#e42a1f" stroke-width="1.4" stroke-dasharray="2.4 3.2"/><path d="M637.5,244.5 C647.5,244.5 647.5,261.5 637.5,261.5" fill="none" stroke="#e42a1f" stroke-width="1.4" stroke-dasharray="2.4 3.2"/><path d="M580.5,261.5 C576.5,261.5 576.5,276.5 580.5,276.5" fill="none" stroke="#e42a1f" stroke-width="1.4" stroke-dasharray="2.4 3.2"/><path d="M637.5,276.5 C647.5,276.5 647.5,292.5 637.5,292.5" fill="none" stroke="#e42a1f" stroke-width="1.4" stroke-dasharray="2.4 3.2"/><path d="M580.5,292.5 C576.5,292.5 576.5,316.5 580.5,316.5" fill="none" stroke="#e42a1f" stroke-width="1.4" stroke-dasharray="2.4 3.2"/><path d="M637.5,316.5 C647.5,316.5 647.5,334.5 637.5,334.5" fill="none" stroke="#e42a1f" stroke-width="1.4" stroke-dasharray="2.4 3.2"/><path d="M580.5,334.5 C576.5,334.5 576.5,353.5 580.5,353.5" fill="none" stroke="#e42a1f" stroke-width="1.4" stroke-dasharray="2.4 3.2"/><path d="M637.5,353.5 C647.5,353.5 647.5,373.5 637.5,373.5" fill="none" stroke="#e42a1f" stroke-width="1.4" stroke-dasharray="2.4 3.2"/><path d="M580.5,373.5 C576.5,373.5 576.5,387.5 580.5,387.5" fill="none" stroke="#e42a1f" stroke-width="1.4" stroke-dasharray="2.4 3.2"/><path d="M637.5,387.5 C647.5,387.5 647.5,399.5 637.5,399.5" fill="none" stroke="#e42a1f" stroke-width="1.4" stroke-dasharray="2.4 3.2"/><path d="M580.5,399.5 C576.5,399.5 576.5,410.5 580.5,410.5" fill="none" stroke="#e42a1f" stroke-width="1.4" stroke-dasharray="2.4 3.2"/><path d="M637.8,225.5 C637.5,229 636,230.5 633,230.5" fill="none" stroke="#e42a1f" stroke-width="1.4" stroke-dasharray="2.4 3.2"/><path d="M637.5,410.5 C646,410.5 645.5,416 645,423" fill="none" stroke="#e42a1f" stroke-width="1.4" stroke-dasharray="2.4 3.2"/></g>
<g clip-path="url(#r4blue)"><path d="M580.5,230.5 H637.5" fill="none" stroke="#14a0da" stroke-width="1.4" stroke-dasharray="3.2 4.98" stroke-dashoffset="2.46"/><path d="M580.5,244.5 H637.5" fill="none" stroke="#14a0da" stroke-width="1.4" stroke-dasharray="3.2 4.98" stroke-dashoffset="2.46"/><path d="M580.5,261.5 H637.5" fill="none" stroke="#14a0da" stroke-width="1.4" stroke-dasharray="3.2 4.98" stroke-dashoffset="2.46"/><path d="M580.5,276.5 H637.5" fill="none" stroke="#14a0da" stroke-width="1.4" stroke-dasharray="3.2 4.98" stroke-dashoffset="2.46"/><path d="M580.5,292.5 H637.5" fill="none" stroke="#14a0da" stroke-width="1.4" stroke-dasharray="3.2 4.98" stroke-dashoffset="2.46"/><path d="M580.5,316.5 H637.5" fill="none" stroke="#14a0da" stroke-width="1.4" stroke-dasharray="3.2 4.98" stroke-dashoffset="2.46"/><path d="M580.5,334.5 H637.5" fill="none" stroke="#14a0da" stroke-width="1.4" stroke-dasharray="3.2 4.98" stroke-dashoffset="2.46"/><path d="M580.5,353.5 H637.5" fill="none" stroke="#14a0da" stroke-width="1.4" stroke-dasharray="3.2 4.98" stroke-dashoffset="2.46"/><path d="M580.5,373.5 H637.5" fill="none" stroke="#14a0da" stroke-width="1.4" stroke-dasharray="3.2 4.98" stroke-dashoffset="2.46"/><path d="M580.5,387.5 H637.5" fill="none" stroke="#14a0da" stroke-width="1.4" stroke-dasharray="3.2 4.98" stroke-dashoffset="2.46"/><path d="M580.5,399.5 H637.5" fill="none" stroke="#14a0da" stroke-width="1.4" stroke-dasharray="3.2 4.98" stroke-dashoffset="2.46"/><path d="M580.5,410.5 H637.5" fill="none" stroke="#14a0da" stroke-width="1.4" stroke-dasharray="3.2 4.98" stroke-dashoffset="2.46"/><path d="M580.5,230.5 C576.5,230.5 576.5,244.5 580.5,244.5" fill="none" stroke="#14a0da" stroke-width="1.4" stroke-dasharray="3.4 3.3"/><path d="M637.5,244.5 C647.5,244.5 647.5,261.5 637.5,261.5" fill="none" stroke="#14a0da" stroke-width="1.4" stroke-dasharray="3.4 3.3"/><path d="M580.5,261.5 C576.5,261.5 576.5,276.5 580.5,276.5" fill="none" stroke="#14a0da" stroke-width="1.4" stroke-dasharray="3.4 3.3"/><path d="M637.5,276.5 C647.5,276.5 647.5,292.5 637.5,292.5" fill="none" stroke="#14a0da" stroke-width="1.4" stroke-dasharray="3.4 3.3"/><path d="M580.5,292.5 C576.5,292.5 576.5,316.5 580.5,316.5" fill="none" stroke="#14a0da" stroke-width="1.4" stroke-dasharray="3.4 3.3"/><path d="M637.5,316.5 C647.5,316.5 647.5,334.5 637.5,334.5" fill="none" stroke="#14a0da" stroke-width="1.4" stroke-dasharray="3.4 3.3"/><path d="M580.5,334.5 C576.5,334.5 576.5,353.5 580.5,353.5" fill="none" stroke="#14a0da" stroke-width="1.4" stroke-dasharray="3.4 3.3"/><path d="M637.5,353.5 C647.5,353.5 647.5,373.5 637.5,373.5" fill="none" stroke="#14a0da" stroke-width="1.4" stroke-dasharray="3.4 3.3"/><path d="M580.5,373.5 C576.5,373.5 576.5,387.5 580.5,387.5" fill="none" stroke="#14a0da" stroke-width="1.4" stroke-dasharray="3.4 3.3"/><path d="M637.5,387.5 C647.5,387.5 647.5,399.5 637.5,399.5" fill="none" stroke="#14a0da" stroke-width="1.4" stroke-dasharray="3.4 3.3"/><path d="M580.5,399.5 C576.5,399.5 576.5,410.5 580.5,410.5" fill="none" stroke="#14a0da" stroke-width="1.4" stroke-dasharray="3.4 3.3"/><path d="M637.8,225.5 C637.5,229 636,230.5 633,230.5" fill="none" stroke="#14a0da" stroke-width="1.4" stroke-dasharray="3.4 3.3"/><path d="M637.5,410.5 C646,410.5 645.5,416 645,423" fill="none" stroke="#14a0da" stroke-width="1.4" stroke-dasharray="3.4 3.3"/></g>
<path d="M580.0,428.5 H640.0" fill="none" stroke="#14a0da" stroke-width="1.4" stroke-dasharray="3.2 4.98" stroke-dashoffset="1.96"/>
<rect x="104.85" y="215.00" width="0.9" height="76.00" fill="#555"/>
<rect x="104.62" y="291" width="1.35" height="142.00" fill="#1b1b1b"/>
<rect x="183.92" y="215.00" width="1.35" height="218.00" fill="#1b1b1b"/>
<rect x="110.00" y="215.00" width="1.65" height="218.00" fill="#1b1b1b"/>
<rect x="112.35" y="215.00" width="1.65" height="218.00" fill="#1b1b1b"/>
<rect x="111.35" y="215.00" width="1.30" height="218.00" fill="#1b1b1b" fill-opacity="0.45"/>
<rect x="118.18" y="215.00" width="1.65" height="218.00" fill="#1b1b1b"/>
<rect x="120.53" y="215.00" width="1.65" height="218.00" fill="#1b1b1b"/>
<rect x="119.53" y="215.00" width="1.30" height="218.00" fill="#1b1b1b" fill-opacity="0.45"/>
<rect x="126.36" y="215.00" width="1.65" height="218.00" fill="#1b1b1b"/>
<rect x="128.71" y="215.00" width="1.65" height="218.00" fill="#1b1b1b"/>
<rect x="127.71" y="215.00" width="1.30" height="218.00" fill="#1b1b1b" fill-opacity="0.45"/>
<rect x="134.54" y="215.00" width="1.65" height="218.00" fill="#1b1b1b"/>
<rect x="136.89" y="215.00" width="1.65" height="218.00" fill="#1b1b1b"/>
<rect x="135.89" y="215.00" width="1.30" height="218.00" fill="#1b1b1b" fill-opacity="0.45"/>
<rect x="142.72" y="215.00" width="1.65" height="218.00" fill="#1b1b1b"/>
<rect x="145.07" y="215.00" width="1.65" height="218.00" fill="#1b1b1b"/>
<rect x="144.07" y="215.00" width="1.30" height="218.00" fill="#1b1b1b" fill-opacity="0.45"/>
<rect x="150.90" y="215.00" width="1.65" height="218.00" fill="#1b1b1b"/>
<rect x="153.25" y="215.00" width="1.65" height="218.00" fill="#1b1b1b"/>
<rect x="152.25" y="215.00" width="1.30" height="218.00" fill="#1b1b1b" fill-opacity="0.45"/>
<rect x="159.08" y="215.00" width="1.65" height="218.00" fill="#1b1b1b"/>
<rect x="161.43" y="215.00" width="1.65" height="218.00" fill="#1b1b1b"/>
<rect x="160.43" y="215.00" width="1.30" height="218.00" fill="#1b1b1b" fill-opacity="0.45"/>
<rect x="167.26" y="215.00" width="1.65" height="218.00" fill="#1b1b1b"/>
<rect x="169.61" y="215.00" width="1.65" height="218.00" fill="#1b1b1b"/>
<rect x="168.61" y="215.00" width="1.30" height="218.00" fill="#1b1b1b" fill-opacity="0.45"/>
<rect x="175.44" y="215.00" width="1.65" height="218.00" fill="#1b1b1b"/>
<rect x="177.79" y="215.00" width="1.65" height="218.00" fill="#1b1b1b"/>
<rect x="176.79" y="215.00" width="1.30" height="218.00" fill="#1b1b1b" fill-opacity="0.45"/>
<rect x="104.62" y="215.00" width="80.65" height="1.1" fill="#3a3a3a"/>
<rect x="111.50" y="215.00" width="1.0" height="0.8" fill="#fff" fill-opacity="0.6"/>
<rect x="119.68" y="215.00" width="1.0" height="0.8" fill="#fff" fill-opacity="0.6"/>
<rect x="127.86" y="215.00" width="1.0" height="0.8" fill="#fff" fill-opacity="0.6"/>
<rect x="136.04" y="215.00" width="1.0" height="0.8" fill="#fff" fill-opacity="0.6"/>
<rect x="144.22" y="215.00" width="1.0" height="0.8" fill="#fff" fill-opacity="0.6"/>
<rect x="152.40" y="215.00" width="1.0" height="0.8" fill="#fff" fill-opacity="0.6"/>
<rect x="160.58" y="215.00" width="1.0" height="0.8" fill="#fff" fill-opacity="0.6"/>
<rect x="168.76" y="215.00" width="1.0" height="0.8" fill="#fff" fill-opacity="0.6"/>
<rect x="176.94" y="215.00" width="1.0" height="0.8" fill="#fff" fill-opacity="0.6"/>
<rect x="104.62" y="431.70" width="80.65" height="1.3" fill="#1b1b1b"/>
<rect x="103.70" y="221.00" width="82.50" height="3.8" fill="#1b1b1b"/>
<rect x="105.97" y="221.85" width="4.03" height="2.1" fill="#6e6e6e"/>
<rect x="106.48" y="222.10" width="1.5" height="1.7" fill="#c4c4c4"/>
<rect x="108.17" y="222.10" width="1.5" height="1.7" fill="#c4c4c4"/>
<rect x="114.00" y="221.85" width="4.18" height="2.1" fill="#6e6e6e"/>
<rect x="114.55" y="222.10" width="1.5" height="1.7" fill="#c4c4c4"/>
<rect x="116.31" y="222.10" width="1.5" height="1.7" fill="#c4c4c4"/>
<rect x="122.18" y="221.85" width="4.18" height="2.1" fill="#6e6e6e"/>
<rect x="122.73" y="222.10" width="1.5" height="1.7" fill="#c4c4c4"/>
<rect x="124.49" y="222.10" width="1.5" height="1.7" fill="#c4c4c4"/>
<rect x="130.36" y="221.85" width="4.18" height="2.1" fill="#6e6e6e"/>
<rect x="130.91" y="222.10" width="1.5" height="1.7" fill="#c4c4c4"/>
<rect x="132.67" y="222.10" width="1.5" height="1.7" fill="#c4c4c4"/>
<rect x="138.54" y="221.85" width="4.18" height="2.1" fill="#6e6e6e"/>
<rect x="139.09" y="222.10" width="1.5" height="1.7" fill="#c4c4c4"/>
<rect x="140.85" y="222.10" width="1.5" height="1.7" fill="#c4c4c4"/>
<rect x="146.72" y="221.85" width="4.18" height="2.1" fill="#6e6e6e"/>
<rect x="147.27" y="222.10" width="1.5" height="1.7" fill="#c4c4c4"/>
<rect x="149.03" y="222.10" width="1.5" height="1.7" fill="#c4c4c4"/>
<rect x="154.90" y="221.85" width="4.18" height="2.1" fill="#6e6e6e"/>
<rect x="155.45" y="222.10" width="1.5" height="1.7" fill="#c4c4c4"/>
<rect x="157.21" y="222.10" width="1.5" height="1.7" fill="#c4c4c4"/>
<rect x="163.08" y="221.85" width="4.18" height="2.1" fill="#6e6e6e"/>
<rect x="163.63" y="222.10" width="1.5" height="1.7" fill="#c4c4c4"/>
<rect x="165.39" y="222.10" width="1.5" height="1.7" fill="#c4c4c4"/>
<rect x="171.26" y="221.85" width="4.18" height="2.1" fill="#6e6e6e"/>
<rect x="171.81" y="222.10" width="1.5" height="1.7" fill="#c4c4c4"/>
<rect x="173.57" y="222.10" width="1.5" height="1.7" fill="#c4c4c4"/>
<rect x="179.44" y="221.85" width="4.48" height="2.1" fill="#6e6e6e"/>
<rect x="180.09" y="222.10" width="1.5" height="1.7" fill="#c4c4c4"/>
<rect x="181.97" y="222.10" width="1.5" height="1.7" fill="#c4c4c4"/>
<rect x="103.70" y="423.00" width="82.50" height="3.8" fill="#1b1b1b"/>
<rect x="105.97" y="423.85" width="4.03" height="2.1" fill="#6e6e6e"/>
<rect x="106.48" y="424.10" width="1.5" height="1.7" fill="#c4c4c4"/>
<rect x="108.17" y="424.10" width="1.5" height="1.7" fill="#c4c4c4"/>
<rect x="114.00" y="423.85" width="4.18" height="2.1" fill="#6e6e6e"/>
<rect x="114.55" y="424.10" width="1.5" height="1.7" fill="#c4c4c4"/>
<rect x="116.31" y="424.10" width="1.5" height="1.7" fill="#c4c4c4"/>
<rect x="122.18" y="423.85" width="4.18" height="2.1" fill="#6e6e6e"/>
<rect x="122.73" y="424.10" width="1.5" height="1.7" fill="#c4c4c4"/>
<rect x="124.49" y="424.10" width="1.5" height="1.7" fill="#c4c4c4"/>
<rect x="130.36" y="423.85" width="4.18" height="2.1" fill="#6e6e6e"/>
<rect x="130.91" y="424.10" width="1.5" height="1.7" fill="#c4c4c4"/>
<rect x="132.67" y="424.10" width="1.5" height="1.7" fill="#c4c4c4"/>
<rect x="138.54" y="423.85" width="4.18" height="2.1" fill="#6e6e6e"/>
<rect x="139.09" y="424.10" width="1.5" height="1.7" fill="#c4c4c4"/>
<rect x="140.85" y="424.10" width="1.5" height="1.7" fill="#c4c4c4"/>
<rect x="146.72" y="423.85" width="4.18" height="2.1" fill="#6e6e6e"/>
<rect x="147.27" y="424.10" width="1.5" height="1.7" fill="#c4c4c4"/>
<rect x="149.03" y="424.10" width="1.5" height="1.7" fill="#c4c4c4"/>
<rect x="154.90" y="423.85" width="4.18" height="2.1" fill="#6e6e6e"/>
<rect x="155.45" y="424.10" width="1.5" height="1.7" fill="#c4c4c4"/>
<rect x="157.21" y="424.10" width="1.5" height="1.7" fill="#c4c4c4"/>
<rect x="163.08" y="423.85" width="4.18" height="2.1" fill="#6e6e6e"/>
<rect x="163.63" y="424.10" width="1.5" height="1.7" fill="#c4c4c4"/>
<rect x="165.39" y="424.10" width="1.5" height="1.7" fill="#c4c4c4"/>
<rect x="171.26" y="423.85" width="4.18" height="2.1" fill="#6e6e6e"/>
<rect x="171.81" y="424.10" width="1.5" height="1.7" fill="#c4c4c4"/>
<rect x="173.57" y="424.10" width="1.5" height="1.7" fill="#c4c4c4"/>
<rect x="179.44" y="423.85" width="4.48" height="2.1" fill="#6e6e6e"/>
<rect x="180.09" y="424.10" width="1.5" height="1.7" fill="#c4c4c4"/>
<rect x="181.97" y="424.10" width="1.5" height="1.7" fill="#c4c4c4"/>
<rect x="282.85" y="215.00" width="0.9" height="76.00" fill="#555"/>
<rect x="282.62" y="291" width="1.35" height="142.00" fill="#1b1b1b"/>
<rect x="361.93" y="215.00" width="1.35" height="218.00" fill="#1b1b1b"/>
<rect x="288.00" y="215.00" width="1.65" height="218.00" fill="#1b1b1b"/>
<rect x="290.35" y="215.00" width="1.65" height="218.00" fill="#1b1b1b"/>
<rect x="289.35" y="215.00" width="1.30" height="218.00" fill="#1b1b1b" fill-opacity="0.45"/>
<rect x="296.18" y="215.00" width="1.65" height="218.00" fill="#1b1b1b"/>
<rect x="298.53" y="215.00" width="1.65" height="218.00" fill="#1b1b1b"/>
<rect x="297.53" y="215.00" width="1.30" height="218.00" fill="#1b1b1b" fill-opacity="0.45"/>
<rect x="304.36" y="215.00" width="1.65" height="218.00" fill="#1b1b1b"/>
<rect x="306.71" y="215.00" width="1.65" height="218.00" fill="#1b1b1b"/>
<rect x="305.71" y="215.00" width="1.30" height="218.00" fill="#1b1b1b" fill-opacity="0.45"/>
<rect x="312.54" y="215.00" width="1.65" height="218.00" fill="#1b1b1b"/>
<rect x="314.89" y="215.00" width="1.65" height="218.00" fill="#1b1b1b"/>
<rect x="313.89" y="215.00" width="1.30" height="218.00" fill="#1b1b1b" fill-opacity="0.45"/>
<rect x="320.72" y="215.00" width="1.65" height="218.00" fill="#1b1b1b"/>
<rect x="323.07" y="215.00" width="1.65" height="218.00" fill="#1b1b1b"/>
<rect x="322.07" y="215.00" width="1.30" height="218.00" fill="#1b1b1b" fill-opacity="0.45"/>
<rect x="328.90" y="215.00" width="1.65" height="218.00" fill="#1b1b1b"/>
<rect x="331.25" y="215.00" width="1.65" height="218.00" fill="#1b1b1b"/>
<rect x="330.25" y="215.00" width="1.30" height="218.00" fill="#1b1b1b" fill-opacity="0.45"/>
<rect x="337.08" y="215.00" width="1.65" height="218.00" fill="#1b1b1b"/>
<rect x="339.43" y="215.00" width="1.65" height="218.00" fill="#1b1b1b"/>
<rect x="338.43" y="215.00" width="1.30" height="218.00" fill="#1b1b1b" fill-opacity="0.45"/>
<rect x="345.26" y="215.00" width="1.65" height="218.00" fill="#1b1b1b"/>
<rect x="347.61" y="215.00" width="1.65" height="218.00" fill="#1b1b1b"/>
<rect x="346.61" y="215.00" width="1.30" height="218.00" fill="#1b1b1b" fill-opacity="0.45"/>
<rect x="353.44" y="215.00" width="1.65" height="218.00" fill="#1b1b1b"/>
<rect x="355.79" y="215.00" width="1.65" height="218.00" fill="#1b1b1b"/>
<rect x="354.79" y="215.00" width="1.30" height="218.00" fill="#1b1b1b" fill-opacity="0.45"/>
<rect x="282.62" y="215.00" width="80.65" height="1.1" fill="#3a3a3a"/>
<rect x="289.50" y="215.00" width="1.0" height="0.8" fill="#fff" fill-opacity="0.6"/>
<rect x="297.68" y="215.00" width="1.0" height="0.8" fill="#fff" fill-opacity="0.6"/>
<rect x="305.86" y="215.00" width="1.0" height="0.8" fill="#fff" fill-opacity="0.6"/>
<rect x="314.04" y="215.00" width="1.0" height="0.8" fill="#fff" fill-opacity="0.6"/>
<rect x="322.22" y="215.00" width="1.0" height="0.8" fill="#fff" fill-opacity="0.6"/>
<rect x="330.40" y="215.00" width="1.0" height="0.8" fill="#fff" fill-opacity="0.6"/>
<rect x="338.58" y="215.00" width="1.0" height="0.8" fill="#fff" fill-opacity="0.6"/>
<rect x="346.76" y="215.00" width="1.0" height="0.8" fill="#fff" fill-opacity="0.6"/>
<rect x="354.94" y="215.00" width="1.0" height="0.8" fill="#fff" fill-opacity="0.6"/>
<rect x="282.62" y="431.70" width="80.65" height="1.3" fill="#1b1b1b"/>
<rect x="281.70" y="221.00" width="82.50" height="3.8" fill="#1b1b1b"/>
<rect x="283.98" y="221.85" width="4.02" height="2.1" fill="#6e6e6e"/>
<rect x="284.48" y="222.10" width="1.5" height="1.7" fill="#c4c4c4"/>
<rect x="286.17" y="222.10" width="1.5" height="1.7" fill="#c4c4c4"/>
<rect x="292.00" y="221.85" width="4.18" height="2.1" fill="#6e6e6e"/>
<rect x="292.55" y="222.10" width="1.5" height="1.7" fill="#c4c4c4"/>
<rect x="294.31" y="222.10" width="1.5" height="1.7" fill="#c4c4c4"/>
<rect x="300.18" y="221.85" width="4.18" height="2.1" fill="#6e6e6e"/>
<rect x="300.73" y="222.10" width="1.5" height="1.7" fill="#c4c4c4"/>
<rect x="302.49" y="222.10" width="1.5" height="1.7" fill="#c4c4c4"/>
<rect x="308.36" y="221.85" width="4.18" height="2.1" fill="#6e6e6e"/>
<rect x="308.91" y="222.10" width="1.5" height="1.7" fill="#c4c4c4"/>
<rect x="310.67" y="222.10" width="1.5" height="1.7" fill="#c4c4c4"/>
<rect x="316.54" y="221.85" width="4.18" height="2.1" fill="#6e6e6e"/>
<rect x="317.09" y="222.10" width="1.5" height="1.7" fill="#c4c4c4"/>
<rect x="318.85" y="222.10" width="1.5" height="1.7" fill="#c4c4c4"/>
<rect x="324.72" y="221.85" width="4.18" height="2.1" fill="#6e6e6e"/>
<rect x="325.27" y="222.10" width="1.5" height="1.7" fill="#c4c4c4"/>
<rect x="327.03" y="222.10" width="1.5" height="1.7" fill="#c4c4c4"/>
<rect x="332.90" y="221.85" width="4.18" height="2.1" fill="#6e6e6e"/>
<rect x="333.45" y="222.10" width="1.5" height="1.7" fill="#c4c4c4"/>
<rect x="335.21" y="222.10" width="1.5" height="1.7" fill="#c4c4c4"/>
<rect x="341.08" y="221.85" width="4.18" height="2.1" fill="#6e6e6e"/>
<rect x="341.63" y="222.10" width="1.5" height="1.7" fill="#c4c4c4"/>
<rect x="343.39" y="222.10" width="1.5" height="1.7" fill="#c4c4c4"/>
<rect x="349.26" y="221.85" width="4.18" height="2.1" fill="#6e6e6e"/>
<rect x="349.81" y="222.10" width="1.5" height="1.7" fill="#c4c4c4"/>
<rect x="351.57" y="222.10" width="1.5" height="1.7" fill="#c4c4c4"/>
<rect x="357.44" y="221.85" width="4.49" height="2.1" fill="#6e6e6e"/>
<rect x="358.09" y="222.10" width="1.5" height="1.7" fill="#c4c4c4"/>
<rect x="359.97" y="222.10" width="1.5" height="1.7" fill="#c4c4c4"/>
<rect x="281.70" y="423.00" width="82.50" height="3.8" fill="#1b1b1b"/>
<rect x="283.98" y="423.85" width="4.02" height="2.1" fill="#6e6e6e"/>
<rect x="284.48" y="424.10" width="1.5" height="1.7" fill="#c4c4c4"/>
<rect x="286.17" y="424.10" width="1.5" height="1.7" fill="#c4c4c4"/>
<rect x="292.00" y="423.85" width="4.18" height="2.1" fill="#6e6e6e"/>
<rect x="292.55" y="424.10" width="1.5" height="1.7" fill="#c4c4c4"/>
<rect x="294.31" y="424.10" width="1.5" height="1.7" fill="#c4c4c4"/>
<rect x="300.18" y="423.85" width="4.18" height="2.1" fill="#6e6e6e"/>
<rect x="300.73" y="424.10" width="1.5" height="1.7" fill="#c4c4c4"/>
<rect x="302.49" y="424.10" width="1.5" height="1.7" fill="#c4c4c4"/>
<rect x="308.36" y="423.85" width="4.18" height="2.1" fill="#6e6e6e"/>
<rect x="308.91" y="424.10" width="1.5" height="1.7" fill="#c4c4c4"/>
<rect x="310.67" y="424.10" width="1.5" height="1.7" fill="#c4c4c4"/>
<rect x="316.54" y="423.85" width="4.18" height="2.1" fill="#6e6e6e"/>
<rect x="317.09" y="424.10" width="1.5" height="1.7" fill="#c4c4c4"/>
<rect x="318.85" y="424.10" width="1.5" height="1.7" fill="#c4c4c4"/>
<rect x="324.72" y="423.85" width="4.18" height="2.1" fill="#6e6e6e"/>
<rect x="325.27" y="424.10" width="1.5" height="1.7" fill="#c4c4c4"/>
<rect x="327.03" y="424.10" width="1.5" height="1.7" fill="#c4c4c4"/>
<rect x="332.90" y="423.85" width="4.18" height="2.1" fill="#6e6e6e"/>
<rect x="333.45" y="424.10" width="1.5" height="1.7" fill="#c4c4c4"/>
<rect x="335.21" y="424.10" width="1.5" height="1.7" fill="#c4c4c4"/>
<rect x="341.08" y="423.85" width="4.18" height="2.1" fill="#6e6e6e"/>
<rect x="341.63" y="424.10" width="1.5" height="1.7" fill="#c4c4c4"/>
<rect x="343.39" y="424.10" width="1.5" height="1.7" fill="#c4c4c4"/>
<rect x="349.26" y="423.85" width="4.18" height="2.1" fill="#6e6e6e"/>
<rect x="349.81" y="424.10" width="1.5" height="1.7" fill="#c4c4c4"/>
<rect x="351.57" y="424.10" width="1.5" height="1.7" fill="#c4c4c4"/>
<rect x="357.44" y="423.85" width="4.49" height="2.1" fill="#6e6e6e"/>
<rect x="358.09" y="424.10" width="1.5" height="1.7" fill="#c4c4c4"/>
<rect x="359.97" y="424.10" width="1.5" height="1.7" fill="#c4c4c4"/>
<rect x="424.20" y="215.00" width="0.9" height="76.00" fill="#555"/>
<rect x="423.97" y="291" width="1.35" height="142.00" fill="#1b1b1b"/>
<rect x="503.27" y="215.00" width="1.35" height="218.00" fill="#1b1b1b"/>
<rect x="429.35" y="215.00" width="1.65" height="218.00" fill="#1b1b1b"/>
<rect x="431.70" y="215.00" width="1.65" height="218.00" fill="#1b1b1b"/>
<rect x="430.70" y="215.00" width="1.30" height="218.00" fill="#1b1b1b" fill-opacity="0.45"/>
<rect x="437.53" y="215.00" width="1.65" height="218.00" fill="#1b1b1b"/>
<rect x="439.88" y="215.00" width="1.65" height="218.00" fill="#1b1b1b"/>
<rect x="438.88" y="215.00" width="1.30" height="218.00" fill="#1b1b1b" fill-opacity="0.45"/>
<rect x="445.71" y="215.00" width="1.65" height="218.00" fill="#1b1b1b"/>
<rect x="448.06" y="215.00" width="1.65" height="218.00" fill="#1b1b1b"/>
<rect x="447.06" y="215.00" width="1.30" height="218.00" fill="#1b1b1b" fill-opacity="0.45"/>
<rect x="453.89" y="215.00" width="1.65" height="218.00" fill="#1b1b1b"/>
<rect x="456.24" y="215.00" width="1.65" height="218.00" fill="#1b1b1b"/>
<rect x="455.24" y="215.00" width="1.30" height="218.00" fill="#1b1b1b" fill-opacity="0.45"/>
<rect x="462.07" y="215.00" width="1.65" height="218.00" fill="#1b1b1b"/>
<rect x="464.42" y="215.00" width="1.65" height="218.00" fill="#1b1b1b"/>
<rect x="463.42" y="215.00" width="1.30" height="218.00" fill="#1b1b1b" fill-opacity="0.45"/>
<rect x="470.25" y="215.00" width="1.65" height="218.00" fill="#1b1b1b"/>
<rect x="472.60" y="215.00" width="1.65" height="218.00" fill="#1b1b1b"/>
<rect x="471.60" y="215.00" width="1.30" height="218.00" fill="#1b1b1b" fill-opacity="0.45"/>
<rect x="478.43" y="215.00" width="1.65" height="218.00" fill="#1b1b1b"/>
<rect x="480.78" y="215.00" width="1.65" height="218.00" fill="#1b1b1b"/>
<rect x="479.78" y="215.00" width="1.30" height="218.00" fill="#1b1b1b" fill-opacity="0.45"/>
<rect x="486.61" y="215.00" width="1.65" height="218.00" fill="#1b1b1b"/>
<rect x="488.96" y="215.00" width="1.65" height="218.00" fill="#1b1b1b"/>
<rect x="487.96" y="215.00" width="1.30" height="218.00" fill="#1b1b1b" fill-opacity="0.45"/>
<rect x="494.79" y="215.00" width="1.65" height="218.00" fill="#1b1b1b"/>
<rect x="497.14" y="215.00" width="1.65" height="218.00" fill="#1b1b1b"/>
<rect x="496.14" y="215.00" width="1.30" height="218.00" fill="#1b1b1b" fill-opacity="0.45"/>
<rect x="423.97" y="215.00" width="80.65" height="1.1" fill="#3a3a3a"/>
<rect x="430.85" y="215.00" width="1.0" height="0.8" fill="#fff" fill-opacity="0.6"/>
<rect x="439.03" y="215.00" width="1.0" height="0.8" fill="#fff" fill-opacity="0.6"/>
<rect x="447.21" y="215.00" width="1.0" height="0.8" fill="#fff" fill-opacity="0.6"/>
<rect x="455.39" y="215.00" width="1.0" height="0.8" fill="#fff" fill-opacity="0.6"/>
<rect x="463.57" y="215.00" width="1.0" height="0.8" fill="#fff" fill-opacity="0.6"/>
<rect x="471.75" y="215.00" width="1.0" height="0.8" fill="#fff" fill-opacity="0.6"/>
<rect x="479.93" y="215.00" width="1.0" height="0.8" fill="#fff" fill-opacity="0.6"/>
<rect x="488.11" y="215.00" width="1.0" height="0.8" fill="#fff" fill-opacity="0.6"/>
<rect x="496.29" y="215.00" width="1.0" height="0.8" fill="#fff" fill-opacity="0.6"/>
<rect x="423.97" y="431.70" width="80.65" height="1.3" fill="#1b1b1b"/>
<rect x="423.05" y="221.00" width="82.50" height="3.8" fill="#1b1b1b"/>
<rect x="425.32" y="221.85" width="4.02" height="2.1" fill="#6e6e6e"/>
<rect x="425.83" y="222.10" width="1.5" height="1.7" fill="#c4c4c4"/>
<rect x="427.52" y="222.10" width="1.5" height="1.7" fill="#c4c4c4"/>
<rect x="433.35" y="221.85" width="4.18" height="2.1" fill="#6e6e6e"/>
<rect x="433.90" y="222.10" width="1.5" height="1.7" fill="#c4c4c4"/>
<rect x="435.66" y="222.10" width="1.5" height="1.7" fill="#c4c4c4"/>
<rect x="441.53" y="221.85" width="4.18" height="2.1" fill="#6e6e6e"/>
<rect x="442.08" y="222.10" width="1.5" height="1.7" fill="#c4c4c4"/>
<rect x="443.84" y="222.10" width="1.5" height="1.7" fill="#c4c4c4"/>
<rect x="449.71" y="221.85" width="4.18" height="2.1" fill="#6e6e6e"/>
<rect x="450.26" y="222.10" width="1.5" height="1.7" fill="#c4c4c4"/>
<rect x="452.02" y="222.10" width="1.5" height="1.7" fill="#c4c4c4"/>
<rect x="457.89" y="221.85" width="4.18" height="2.1" fill="#6e6e6e"/>
<rect x="458.44" y="222.10" width="1.5" height="1.7" fill="#c4c4c4"/>
<rect x="460.20" y="222.10" width="1.5" height="1.7" fill="#c4c4c4"/>
<rect x="466.07" y="221.85" width="4.18" height="2.1" fill="#6e6e6e"/>
<rect x="466.62" y="222.10" width="1.5" height="1.7" fill="#c4c4c4"/>
<rect x="468.38" y="222.10" width="1.5" height="1.7" fill="#c4c4c4"/>
<rect x="474.25" y="221.85" width="4.18" height="2.1" fill="#6e6e6e"/>
<rect x="474.80" y="222.10" width="1.5" height="1.7" fill="#c4c4c4"/>
<rect x="476.56" y="222.10" width="1.5" height="1.7" fill="#c4c4c4"/>
<rect x="482.43" y="221.85" width="4.18" height="2.1" fill="#6e6e6e"/>
<rect x="482.98" y="222.10" width="1.5" height="1.7" fill="#c4c4c4"/>
<rect x="484.74" y="222.10" width="1.5" height="1.7" fill="#c4c4c4"/>
<rect x="490.61" y="221.85" width="4.18" height="2.1" fill="#6e6e6e"/>
<rect x="491.16" y="222.10" width="1.5" height="1.7" fill="#c4c4c4"/>
<rect x="492.92" y="222.10" width="1.5" height="1.7" fill="#c4c4c4"/>
<rect x="498.79" y="221.85" width="4.49" height="2.1" fill="#6e6e6e"/>
<rect x="499.44" y="222.10" width="1.5" height="1.7" fill="#c4c4c4"/>
<rect x="501.32" y="222.10" width="1.5" height="1.7" fill="#c4c4c4"/>
<rect x="423.05" y="423.00" width="82.50" height="3.8" fill="#1b1b1b"/>
<rect x="425.32" y="423.85" width="4.02" height="2.1" fill="#6e6e6e"/>
<rect x="425.83" y="424.10" width="1.5" height="1.7" fill="#c4c4c4"/>
<rect x="427.52" y="424.10" width="1.5" height="1.7" fill="#c4c4c4"/>
<rect x="433.35" y="423.85" width="4.18" height="2.1" fill="#6e6e6e"/>
<rect x="433.90" y="424.10" width="1.5" height="1.7" fill="#c4c4c4"/>
<rect x="435.66" y="424.10" width="1.5" height="1.7" fill="#c4c4c4"/>
<rect x="441.53" y="423.85" width="4.18" height="2.1" fill="#6e6e6e"/>
<rect x="442.08" y="424.10" width="1.5" height="1.7" fill="#c4c4c4"/>
<rect x="443.84" y="424.10" width="1.5" height="1.7" fill="#c4c4c4"/>
<rect x="449.71" y="423.85" width="4.18" height="2.1" fill="#6e6e6e"/>
<rect x="450.26" y="424.10" width="1.5" height="1.7" fill="#c4c4c4"/>
<rect x="452.02" y="424.10" width="1.5" height="1.7" fill="#c4c4c4"/>
<rect x="457.89" y="423.85" width="4.18" height="2.1" fill="#6e6e6e"/>
<rect x="458.44" y="424.10" width="1.5" height="1.7" fill="#c4c4c4"/>
<rect x="460.20" y="424.10" width="1.5" height="1.7" fill="#c4c4c4"/>
<rect x="466.07" y="423.85" width="4.18" height="2.1" fill="#6e6e6e"/>
<rect x="466.62" y="424.10" width="1.5" height="1.7" fill="#c4c4c4"/>
<rect x="468.38" y="424.10" width="1.5" height="1.7" fill="#c4c4c4"/>
<rect x="474.25" y="423.85" width="4.18" height="2.1" fill="#6e6e6e"/>
<rect x="474.80" y="424.10" width="1.5" height="1.7" fill="#c4c4c4"/>
<rect x="476.56" y="424.10" width="1.5" height="1.7" fill="#c4c4c4"/>
<rect x="482.43" y="423.85" width="4.18" height="2.1" fill="#6e6e6e"/>
<rect x="482.98" y="424.10" width="1.5" height="1.7" fill="#c4c4c4"/>
<rect x="484.74" y="424.10" width="1.5" height="1.7" fill="#c4c4c4"/>
<rect x="490.61" y="423.85" width="4.18" height="2.1" fill="#6e6e6e"/>
<rect x="491.16" y="424.10" width="1.5" height="1.7" fill="#c4c4c4"/>
<rect x="492.92" y="424.10" width="1.5" height="1.7" fill="#c4c4c4"/>
<rect x="498.79" y="423.85" width="4.49" height="2.1" fill="#6e6e6e"/>
<rect x="499.44" y="424.10" width="1.5" height="1.7" fill="#c4c4c4"/>
<rect x="501.32" y="424.10" width="1.5" height="1.7" fill="#c4c4c4"/>
<rect x="568.40" y="215.00" width="0.9" height="76.00" fill="#555"/>
<rect x="568.18" y="291" width="1.35" height="142.00" fill="#1b1b1b"/>
<rect x="647.48" y="215.00" width="1.35" height="218.00" fill="#1b1b1b"/>
<rect x="573.55" y="215.00" width="1.65" height="218.00" fill="#1b1b1b"/>
<rect x="575.90" y="215.00" width="1.65" height="218.00" fill="#1b1b1b"/>
<rect x="574.90" y="215.00" width="1.30" height="218.00" fill="#1b1b1b" fill-opacity="0.45"/>
<rect x="581.73" y="215.00" width="1.65" height="218.00" fill="#1b1b1b"/>
<rect x="584.08" y="215.00" width="1.65" height="218.00" fill="#1b1b1b"/>
<rect x="583.08" y="215.00" width="1.30" height="218.00" fill="#1b1b1b" fill-opacity="0.45"/>
<rect x="589.91" y="215.00" width="1.65" height="218.00" fill="#1b1b1b"/>
<rect x="592.26" y="215.00" width="1.65" height="218.00" fill="#1b1b1b"/>
<rect x="591.26" y="215.00" width="1.30" height="218.00" fill="#1b1b1b" fill-opacity="0.45"/>
<rect x="598.09" y="215.00" width="1.65" height="218.00" fill="#1b1b1b"/>
<rect x="600.44" y="215.00" width="1.65" height="218.00" fill="#1b1b1b"/>
<rect x="599.44" y="215.00" width="1.30" height="218.00" fill="#1b1b1b" fill-opacity="0.45"/>
<rect x="606.27" y="215.00" width="1.65" height="218.00" fill="#1b1b1b"/>
<rect x="608.62" y="215.00" width="1.65" height="218.00" fill="#1b1b1b"/>
<rect x="607.62" y="215.00" width="1.30" height="218.00" fill="#1b1b1b" fill-opacity="0.45"/>
<rect x="614.45" y="215.00" width="1.65" height="218.00" fill="#1b1b1b"/>
<rect x="616.80" y="215.00" width="1.65" height="218.00" fill="#1b1b1b"/>
<rect x="615.80" y="215.00" width="1.30" height="218.00" fill="#1b1b1b" fill-opacity="0.45"/>
<rect x="622.63" y="215.00" width="1.65" height="218.00" fill="#1b1b1b"/>
<rect x="624.98" y="215.00" width="1.65" height="218.00" fill="#1b1b1b"/>
<rect x="623.98" y="215.00" width="1.30" height="218.00" fill="#1b1b1b" fill-opacity="0.45"/>
<rect x="630.81" y="215.00" width="1.65" height="218.00" fill="#1b1b1b"/>
<rect x="633.16" y="215.00" width="1.65" height="218.00" fill="#1b1b1b"/>
<rect x="632.16" y="215.00" width="1.30" height="218.00" fill="#1b1b1b" fill-opacity="0.45"/>
<rect x="638.99" y="215.00" width="1.65" height="218.00" fill="#1b1b1b"/>
<rect x="641.34" y="215.00" width="1.65" height="218.00" fill="#1b1b1b"/>
<rect x="640.34" y="215.00" width="1.30" height="218.00" fill="#1b1b1b" fill-opacity="0.45"/>
<rect x="568.18" y="215.00" width="80.65" height="1.1" fill="#3a3a3a"/>
<rect x="575.05" y="215.00" width="1.0" height="0.8" fill="#fff" fill-opacity="0.6"/>
<rect x="583.23" y="215.00" width="1.0" height="0.8" fill="#fff" fill-opacity="0.6"/>
<rect x="591.41" y="215.00" width="1.0" height="0.8" fill="#fff" fill-opacity="0.6"/>
<rect x="599.59" y="215.00" width="1.0" height="0.8" fill="#fff" fill-opacity="0.6"/>
<rect x="607.77" y="215.00" width="1.0" height="0.8" fill="#fff" fill-opacity="0.6"/>
<rect x="615.95" y="215.00" width="1.0" height="0.8" fill="#fff" fill-opacity="0.6"/>
<rect x="624.13" y="215.00" width="1.0" height="0.8" fill="#fff" fill-opacity="0.6"/>
<rect x="632.31" y="215.00" width="1.0" height="0.8" fill="#fff" fill-opacity="0.6"/>
<rect x="640.49" y="215.00" width="1.0" height="0.8" fill="#fff" fill-opacity="0.6"/>
<rect x="568.18" y="431.70" width="80.65" height="1.3" fill="#1b1b1b"/>
<rect x="567.25" y="221.00" width="82.50" height="3.8" fill="#1b1b1b"/>
<rect x="569.52" y="221.85" width="4.03" height="2.1" fill="#6e6e6e"/>
<rect x="570.03" y="222.10" width="1.5" height="1.7" fill="#c4c4c4"/>
<rect x="571.72" y="222.10" width="1.5" height="1.7" fill="#c4c4c4"/>
<rect x="577.55" y="221.85" width="4.18" height="2.1" fill="#6e6e6e"/>
<rect x="578.10" y="222.10" width="1.5" height="1.7" fill="#c4c4c4"/>
<rect x="579.86" y="222.10" width="1.5" height="1.7" fill="#c4c4c4"/>
<rect x="585.73" y="221.85" width="4.18" height="2.1" fill="#6e6e6e"/>
<rect x="586.28" y="222.10" width="1.5" height="1.7" fill="#c4c4c4"/>
<rect x="588.04" y="222.10" width="1.5" height="1.7" fill="#c4c4c4"/>
<rect x="593.91" y="221.85" width="4.18" height="2.1" fill="#6e6e6e"/>
<rect x="594.46" y="222.10" width="1.5" height="1.7" fill="#c4c4c4"/>
<rect x="596.22" y="222.10" width="1.5" height="1.7" fill="#c4c4c4"/>
<rect x="602.09" y="221.85" width="4.18" height="2.1" fill="#6e6e6e"/>
<rect x="602.64" y="222.10" width="1.5" height="1.7" fill="#c4c4c4"/>
<rect x="604.40" y="222.10" width="1.5" height="1.7" fill="#c4c4c4"/>
<rect x="610.27" y="221.85" width="4.18" height="2.1" fill="#6e6e6e"/>
<rect x="610.82" y="222.10" width="1.5" height="1.7" fill="#c4c4c4"/>
<rect x="612.58" y="222.10" width="1.5" height="1.7" fill="#c4c4c4"/>
<rect x="618.45" y="221.85" width="4.18" height="2.1" fill="#6e6e6e"/>
<rect x="619.00" y="222.10" width="1.5" height="1.7" fill="#c4c4c4"/>
<rect x="620.76" y="222.10" width="1.5" height="1.7" fill="#c4c4c4"/>
<rect x="626.63" y="221.85" width="4.18" height="2.1" fill="#6e6e6e"/>
<rect x="627.18" y="222.10" width="1.5" height="1.7" fill="#c4c4c4"/>
<rect x="628.94" y="222.10" width="1.5" height="1.7" fill="#c4c4c4"/>
<rect x="634.81" y="221.85" width="4.18" height="2.1" fill="#6e6e6e"/>
<rect x="635.36" y="222.10" width="1.5" height="1.7" fill="#c4c4c4"/>
<rect x="637.12" y="222.10" width="1.5" height="1.7" fill="#c4c4c4"/>
<rect x="642.99" y="221.85" width="4.49" height="2.1" fill="#6e6e6e"/>
<rect x="643.64" y="222.10" width="1.5" height="1.7" fill="#c4c4c4"/>
<rect x="645.52" y="222.10" width="1.5" height="1.7" fill="#c4c4c4"/>
<rect x="567.25" y="423.00" width="82.50" height="3.8" fill="#1b1b1b"/>
<rect x="569.52" y="423.85" width="4.03" height="2.1" fill="#6e6e6e"/>
<rect x="570.03" y="424.10" width="1.5" height="1.7" fill="#c4c4c4"/>
<rect x="571.72" y="424.10" width="1.5" height="1.7" fill="#c4c4c4"/>
<rect x="577.55" y="423.85" width="4.18" height="2.1" fill="#6e6e6e"/>
<rect x="578.10" y="424.10" width="1.5" height="1.7" fill="#c4c4c4"/>
<rect x="579.86" y="424.10" width="1.5" height="1.7" fill="#c4c4c4"/>
<rect x="585.73" y="423.85" width="4.18" height="2.1" fill="#6e6e6e"/>
<rect x="586.28" y="424.10" width="1.5" height="1.7" fill="#c4c4c4"/>
<rect x="588.04" y="424.10" width="1.5" height="1.7" fill="#c4c4c4"/>
<rect x="593.91" y="423.85" width="4.18" height="2.1" fill="#6e6e6e"/>
<rect x="594.46" y="424.10" width="1.5" height="1.7" fill="#c4c4c4"/>
<rect x="596.22" y="424.10" width="1.5" height="1.7" fill="#c4c4c4"/>
<rect x="602.09" y="423.85" width="4.18" height="2.1" fill="#6e6e6e"/>
<rect x="602.64" y="424.10" width="1.5" height="1.7" fill="#c4c4c4"/>
<rect x="604.40" y="424.10" width="1.5" height="1.7" fill="#c4c4c4"/>
<rect x="610.27" y="423.85" width="4.18" height="2.1" fill="#6e6e6e"/>
<rect x="610.82" y="424.10" width="1.5" height="1.7" fill="#c4c4c4"/>
<rect x="612.58" y="424.10" width="1.5" height="1.7" fill="#c4c4c4"/>
<rect x="618.45" y="423.85" width="4.18" height="2.1" fill="#6e6e6e"/>
<rect x="619.00" y="424.10" width="1.5" height="1.7" fill="#c4c4c4"/>
<rect x="620.76" y="424.10" width="1.5" height="1.7" fill="#c4c4c4"/>
<rect x="626.63" y="423.85" width="4.18" height="2.1" fill="#6e6e6e"/>
<rect x="627.18" y="424.10" width="1.5" height="1.7" fill="#c4c4c4"/>
<rect x="628.94" y="424.10" width="1.5" height="1.7" fill="#c4c4c4"/>
<rect x="634.81" y="423.85" width="4.18" height="2.1" fill="#6e6e6e"/>
<rect x="635.36" y="424.10" width="1.5" height="1.7" fill="#c4c4c4"/>
<rect x="637.12" y="424.10" width="1.5" height="1.7" fill="#c4c4c4"/>
<rect x="642.99" y="423.85" width="4.49" height="2.1" fill="#6e6e6e"/>
<rect x="643.64" y="424.10" width="1.5" height="1.7" fill="#c4c4c4"/>
<rect x="645.52" y="424.10" width="1.5" height="1.7" fill="#c4c4c4"/>
<path d="M574.9,226 V432" fill="none" stroke="#e42a1f" stroke-width="1.2" stroke-dasharray="1.6 1.3"/>
<line x1="75.8" y1="223.0" x2="91.3" y2="223.0" stroke="#e42a1f" stroke-width="1.9"/><polygon points="102.8,223.0 91.3,219.3 91.3,226.7" fill="#e42a1f"/>
<line x1="213.9" y1="223.0" x2="199.3" y2="223.0" stroke="#e42a1f" stroke-width="1.9"/><polygon points="187.8,223.0 199.3,219.3 199.3,226.7" fill="#e42a1f"/>
<line x1="100.0" y1="425.0" x2="84.5" y2="425.0" stroke="#14a0da" stroke-width="1.9"/><polygon points="73.0,425.0 84.5,421.3 84.5,428.7" fill="#14a0da"/>
<line x1="186.0" y1="425.1" x2="203.5" y2="425.1" stroke="#14a0da" stroke-width="1.9"/><polygon points="215.0,425.1 203.5,421.40000000000003 203.5,428.8" fill="#14a0da"/>
<line x1="253.8" y1="223.0" x2="269.3" y2="223.0" stroke="#e42a1f" stroke-width="1.9"/><polygon points="280.8,223.0 269.3,219.3 269.3,226.7" fill="#e42a1f"/>
<line x1="393.6" y1="222.9" x2="378.7" y2="222.9" stroke="#e42a1f" stroke-width="1.9"/><polygon points="367.2,222.9 378.7,219.20000000000002 378.7,226.6" fill="#e42a1f"/>
<line x1="280.5" y1="425.3" x2="265.1" y2="425.3" stroke="#14a0da" stroke-width="1.9"/><polygon points="253.6,425.3 265.1,421.6 265.1,429.0" fill="#14a0da"/>
<line x1="366.9" y1="425.3" x2="381.8" y2="425.3" stroke="#14a0da" stroke-width="1.9"/><polygon points="393.3,425.3 381.8,421.6 381.8,429.0" fill="#14a0da"/>
<line x1="462.5" y1="452.9" x2="462.5" y2="443.0" stroke="#e42a1f" stroke-width="1.7"/><polygon points="462.5,435.8 460.0,443.0 465.0,443.0" fill="#e42a1f"/>
<line x1="467.8" y1="435.4" x2="467.8" y2="444.7" stroke="#14a0da" stroke-width="1.7"/><polygon points="467.8,451.9 465.3,444.7 470.3,444.7" fill="#14a0da"/>
<line x1="462.5" y1="471.3" x2="462.5" y2="481.2" stroke="#14a0da" stroke-width="1.7"/><polygon points="462.5,488.4 460.0,481.2 465.0,481.2" fill="#14a0da"/>
<line x1="467.5" y1="488.4" x2="467.5" y2="479.0" stroke="#e42a1f" stroke-width="1.7"/><polygon points="467.5,471.8 465.0,479.0 470.0,479.0" fill="#e42a1f"/>
<line x1="574.0" y1="455.6" x2="574.0" y2="442.8" stroke="#e42a1f" stroke-width="1.7"/><polygon points="574.0,435.6 571.5,442.8 576.5,442.8" fill="#e42a1f"/>
<line x1="579.4" y1="435.0" x2="579.4" y2="447.8" stroke="#14a0da" stroke-width="1.7"/><polygon points="579.4,455.0 576.9,447.8 581.9,447.8" fill="#14a0da"/>
<line x1="637.5" y1="471.9" x2="637.5" y2="484.0" stroke="#14a0da" stroke-width="1.7"/><polygon points="637.5,491.2 635.0,484.0 640.0,484.0" fill="#14a0da"/>
<line x1="644.0" y1="491.9" x2="644.0" y2="479.7" stroke="#e42a1f" stroke-width="1.7"/><polygon points="644.0,472.5 641.5,479.7 646.5,479.7" fill="#e42a1f"/>
<clipPath id="clip104"><rect x="98.4" y="491.5" width="90.1" height="10"/></clipPath>
<g clip-path="url(#clip104)" stroke="#1b1b1b" stroke-width="1.0"><line x1="92.4" y1="492" x2="101.0" y2="501.5"/><line x1="100.4" y1="492" x2="109.0" y2="501.5"/><line x1="108.5" y1="492" x2="117.0" y2="501.5"/><line x1="116.5" y1="492" x2="125.1" y2="501.5"/><line x1="124.6" y1="492" x2="133.2" y2="501.5"/><line x1="132.6" y1="492" x2="141.2" y2="501.5"/><line x1="140.7" y1="492" x2="149.2" y2="501.5"/><line x1="148.7" y1="492" x2="157.3" y2="501.5"/><line x1="156.8" y1="492" x2="165.3" y2="501.5"/><line x1="164.8" y1="492" x2="173.4" y2="501.5"/><line x1="172.9" y1="492" x2="181.5" y2="501.5"/><line x1="180.9" y1="492" x2="189.5" y2="501.5"/><line x1="189.0" y1="492" x2="197.6" y2="501.5"/></g>
<rect x="98.4" y="501.2" width="90.1" height="1.4" fill="#1b1b1b"/>
<rect x="110.4" y="502.6" width="3.2" height="3.6" fill="#9a9a9a"/>
<rect x="110.4" y="502.6" width="0.9" height="3.6" fill="#333"/>
<rect x="112.7" y="502.6" width="0.9" height="3.6" fill="#333"/>
<rect x="175.8" y="502.6" width="3.2" height="3.6" fill="#9a9a9a"/>
<rect x="175.8" y="502.6" width="0.9" height="3.6" fill="#333"/>
<rect x="178.1" y="502.6" width="0.9" height="3.6" fill="#333"/>
<rect x="113.5" y="503.1" width="62" height="0.6" fill="#aaa"/>
<rect x="103.7" y="506.2" width="81.2" height="11.4" rx="0.8" fill="#1b1b1b"/>
<rect x="105.1" y="507.3" width="78.4" height="2.4" fill="#5a5a5a"/>
<rect x="105.40" y="511.9" width="4.5" height="4.1" fill="#fff"/>
<rect x="111.40" y="511.2" width="0.6" height="5.6" fill="#6a6a6a"/>
<rect x="113.52" y="511.9" width="4.5" height="4.1" fill="#fff"/>
<rect x="119.52" y="511.2" width="0.6" height="5.6" fill="#6a6a6a"/>
<rect x="121.64" y="511.9" width="4.5" height="4.1" fill="#fff"/>
<rect x="127.64" y="511.2" width="0.6" height="5.6" fill="#6a6a6a"/>
<rect x="129.76" y="511.9" width="4.5" height="4.1" fill="#fff"/>
<rect x="135.76" y="511.2" width="0.6" height="5.6" fill="#6a6a6a"/>
<rect x="137.88" y="511.9" width="4.5" height="4.1" fill="#fff"/>
<rect x="143.88" y="511.2" width="0.6" height="5.6" fill="#6a6a6a"/>
<rect x="146.00" y="511.9" width="4.5" height="4.1" fill="#fff"/>
<rect x="152.00" y="511.2" width="0.6" height="5.6" fill="#6a6a6a"/>
<rect x="154.12" y="511.9" width="4.5" height="4.1" fill="#fff"/>
<rect x="160.12" y="511.2" width="0.6" height="5.6" fill="#6a6a6a"/>
<rect x="162.24" y="511.9" width="4.5" height="4.1" fill="#fff"/>
<rect x="168.24" y="511.2" width="0.6" height="5.6" fill="#6a6a6a"/>
<rect x="170.36" y="511.9" width="4.5" height="4.1" fill="#fff"/>
<rect x="176.36" y="511.2" width="0.6" height="5.6" fill="#6a6a6a"/>
<rect x="178.48" y="511.9" width="4.5" height="4.1" fill="#fff"/>
<clipPath id="clip282"><rect x="277.0" y="491.5" width="91.0" height="10"/></clipPath>
<g clip-path="url(#clip282)" stroke="#1b1b1b" stroke-width="1.0"><line x1="271.0" y1="492" x2="279.6" y2="501.5"/><line x1="279.1" y1="492" x2="287.7" y2="501.5"/><line x1="287.1" y1="492" x2="295.8" y2="501.5"/><line x1="295.2" y1="492" x2="303.8" y2="501.5"/><line x1="303.2" y1="492" x2="311.8" y2="501.5"/><line x1="311.3" y1="492" x2="319.9" y2="501.5"/><line x1="319.3" y1="492" x2="327.9" y2="501.5"/><line x1="327.4" y1="492" x2="336.0" y2="501.5"/><line x1="335.4" y1="492" x2="344.1" y2="501.5"/><line x1="343.5" y1="492" x2="352.1" y2="501.5"/><line x1="351.5" y1="492" x2="360.1" y2="501.5"/><line x1="359.6" y1="492" x2="368.2" y2="501.5"/><line x1="367.6" y1="492" x2="376.2" y2="501.5"/></g>
<rect x="277.0" y="501.2" width="91.0" height="1.4" fill="#1b1b1b"/>
<rect x="288.6" y="502.6" width="3.2" height="3.6" fill="#9a9a9a"/>
<rect x="288.6" y="502.6" width="0.9" height="3.6" fill="#333"/>
<rect x="290.9" y="502.6" width="0.9" height="3.6" fill="#333"/>
<rect x="354.0" y="502.6" width="3.2" height="3.6" fill="#9a9a9a"/>
<rect x="354.0" y="502.6" width="0.9" height="3.6" fill="#333"/>
<rect x="356.3" y="502.6" width="0.9" height="3.6" fill="#333"/>
<rect x="291.7" y="503.1" width="62" height="0.6" fill="#aaa"/>
<rect x="281.9" y="506.2" width="81.2" height="11.4" rx="0.8" fill="#1b1b1b"/>
<rect x="283.3" y="507.3" width="78.4" height="2.4" fill="#5a5a5a"/>
<rect x="283.60" y="511.9" width="4.5" height="4.1" fill="#fff"/>
<rect x="289.60" y="511.2" width="0.6" height="5.6" fill="#6a6a6a"/>
<rect x="291.72" y="511.9" width="4.5" height="4.1" fill="#fff"/>
<rect x="297.72" y="511.2" width="0.6" height="5.6" fill="#6a6a6a"/>
<rect x="299.84" y="511.9" width="4.5" height="4.1" fill="#fff"/>
<rect x="305.84" y="511.2" width="0.6" height="5.6" fill="#6a6a6a"/>
<rect x="307.96" y="511.9" width="4.5" height="4.1" fill="#fff"/>
<rect x="313.96" y="511.2" width="0.6" height="5.6" fill="#6a6a6a"/>
<rect x="316.08" y="511.9" width="4.5" height="4.1" fill="#fff"/>
<rect x="322.08" y="511.2" width="0.6" height="5.6" fill="#6a6a6a"/>
<rect x="324.20" y="511.9" width="4.5" height="4.1" fill="#fff"/>
<rect x="330.20" y="511.2" width="0.6" height="5.6" fill="#6a6a6a"/>
<rect x="332.32" y="511.9" width="4.5" height="4.1" fill="#fff"/>
<rect x="338.32" y="511.2" width="0.6" height="5.6" fill="#6a6a6a"/>
<rect x="340.44" y="511.9" width="4.5" height="4.1" fill="#fff"/>
<rect x="346.44" y="511.2" width="0.6" height="5.6" fill="#6a6a6a"/>
<rect x="348.56" y="511.9" width="4.5" height="4.1" fill="#fff"/>
<rect x="354.56" y="511.2" width="0.6" height="5.6" fill="#6a6a6a"/>
<rect x="356.68" y="511.9" width="4.5" height="4.1" fill="#fff"/>
<clipPath id="clip424"><rect x="419.1" y="491.5" width="90.89999999999998" height="10"/></clipPath>
<g clip-path="url(#clip424)" stroke="#1b1b1b" stroke-width="1.0"><line x1="413.1" y1="492" x2="421.8" y2="501.5"/><line x1="421.2" y1="492" x2="429.8" y2="501.5"/><line x1="429.2" y1="492" x2="437.9" y2="501.5"/><line x1="437.3" y1="492" x2="445.9" y2="501.5"/><line x1="445.3" y1="492" x2="453.9" y2="501.5"/><line x1="453.4" y1="492" x2="462.0" y2="501.5"/><line x1="461.4" y1="492" x2="470.1" y2="501.5"/><line x1="469.5" y1="492" x2="478.1" y2="501.5"/><line x1="477.6" y1="492" x2="486.2" y2="501.5"/><line x1="485.6" y1="492" x2="494.2" y2="501.5"/><line x1="493.6" y1="492" x2="502.2" y2="501.5"/><line x1="501.7" y1="492" x2="510.3" y2="501.5"/><line x1="509.8" y1="492" x2="518.4" y2="501.5"/></g>
<rect x="419.1" y="501.2" width="90.9" height="1.4" fill="#1b1b1b"/>
<rect x="430.1" y="502.6" width="3.2" height="3.6" fill="#9a9a9a"/>
<rect x="430.1" y="502.6" width="0.9" height="3.6" fill="#333"/>
<rect x="432.4" y="502.6" width="0.9" height="3.6" fill="#333"/>
<rect x="495.5" y="502.6" width="3.2" height="3.6" fill="#9a9a9a"/>
<rect x="495.5" y="502.6" width="0.9" height="3.6" fill="#333"/>
<rect x="497.8" y="502.6" width="0.9" height="3.6" fill="#333"/>
<rect x="433.2" y="503.1" width="62" height="0.6" fill="#aaa"/>
<rect x="423.4" y="506.2" width="81.2" height="11.4" rx="0.8" fill="#1b1b1b"/>
<rect x="424.8" y="507.3" width="78.4" height="2.4" fill="#5a5a5a"/>
<rect x="425.10" y="511.9" width="4.5" height="4.1" fill="#fff"/>
<rect x="431.10" y="511.2" width="0.6" height="5.6" fill="#6a6a6a"/>
<rect x="433.22" y="511.9" width="4.5" height="4.1" fill="#fff"/>
<rect x="439.22" y="511.2" width="0.6" height="5.6" fill="#6a6a6a"/>
<rect x="441.34" y="511.9" width="4.5" height="4.1" fill="#fff"/>
<rect x="447.34" y="511.2" width="0.6" height="5.6" fill="#6a6a6a"/>
<rect x="449.46" y="511.9" width="4.5" height="4.1" fill="#fff"/>
<rect x="455.46" y="511.2" width="0.6" height="5.6" fill="#6a6a6a"/>
<rect x="457.58" y="511.9" width="4.5" height="4.1" fill="#fff"/>
<rect x="463.58" y="511.2" width="0.6" height="5.6" fill="#6a6a6a"/>
<rect x="465.70" y="511.9" width="4.5" height="4.1" fill="#fff"/>
<rect x="471.70" y="511.2" width="0.6" height="5.6" fill="#6a6a6a"/>
<rect x="473.82" y="511.9" width="4.5" height="4.1" fill="#fff"/>
<rect x="479.82" y="511.2" width="0.6" height="5.6" fill="#6a6a6a"/>
<rect x="481.94" y="511.9" width="4.5" height="4.1" fill="#fff"/>
<rect x="487.94" y="511.2" width="0.6" height="5.6" fill="#6a6a6a"/>
<rect x="490.06" y="511.9" width="4.5" height="4.1" fill="#fff"/>
<rect x="496.06" y="511.2" width="0.6" height="5.6" fill="#6a6a6a"/>
<rect x="498.18" y="511.9" width="4.5" height="4.1" fill="#fff"/>
<rect x="465.0" y="506.5" width="2.4" height="3.8" fill="#1b1b1b"/>
<clipPath id="clip568"><rect x="564.2" y="491.5" width="90.79999999999995" height="10"/></clipPath>
<g clip-path="url(#clip568)" stroke="#1b1b1b" stroke-width="1.0"><line x1="557.1" y1="492" x2="565.8" y2="501.5"/><line x1="565.2" y1="492" x2="573.8" y2="501.5"/><line x1="573.2" y1="492" x2="581.8" y2="501.5"/><line x1="581.3" y1="492" x2="589.9" y2="501.5"/><line x1="589.3" y1="492" x2="597.9" y2="501.5"/><line x1="597.4" y1="492" x2="606.0" y2="501.5"/><line x1="605.4" y1="492" x2="614.0" y2="501.5"/><line x1="613.5" y1="492" x2="622.1" y2="501.5"/><line x1="621.5" y1="492" x2="630.1" y2="501.5"/><line x1="629.6" y1="492" x2="638.2" y2="501.5"/><line x1="637.6" y1="492" x2="646.2" y2="501.5"/><line x1="645.7" y1="492" x2="654.3" y2="501.5"/><line x1="653.8" y1="492" x2="662.4" y2="501.5"/></g>
<rect x="564.2" y="501.2" width="90.8" height="1.4" fill="#1b1b1b"/>
<rect x="574.2" y="502.6" width="3.2" height="3.6" fill="#9a9a9a"/>
<rect x="574.2" y="502.6" width="0.9" height="3.6" fill="#333"/>
<rect x="576.5" y="502.6" width="0.9" height="3.6" fill="#333"/>
<rect x="639.6" y="502.6" width="3.2" height="3.6" fill="#9a9a9a"/>
<rect x="639.6" y="502.6" width="0.9" height="3.6" fill="#333"/>
<rect x="641.9" y="502.6" width="0.9" height="3.6" fill="#333"/>
<rect x="577.3" y="503.1" width="62" height="0.6" fill="#aaa"/>
<rect x="567.5" y="506.2" width="81.2" height="11.4" rx="0.8" fill="#1b1b1b"/>
<rect x="568.9" y="507.3" width="78.4" height="2.4" fill="#5a5a5a"/>
<rect x="569.20" y="511.9" width="4.5" height="4.1" fill="#fff"/>
<rect x="575.20" y="511.2" width="0.6" height="5.6" fill="#6a6a6a"/>
<rect x="577.32" y="511.9" width="4.5" height="4.1" fill="#fff"/>
<rect x="583.32" y="511.2" width="0.6" height="5.6" fill="#6a6a6a"/>
<rect x="585.44" y="511.9" width="4.5" height="4.1" fill="#fff"/>
<rect x="591.44" y="511.2" width="0.6" height="5.6" fill="#6a6a6a"/>
<rect x="593.56" y="511.9" width="4.5" height="4.1" fill="#fff"/>
<rect x="599.56" y="511.2" width="0.6" height="5.6" fill="#6a6a6a"/>
<rect x="601.68" y="511.9" width="4.5" height="4.1" fill="#fff"/>
<rect x="607.68" y="511.2" width="0.6" height="5.6" fill="#6a6a6a"/>
<rect x="609.80" y="511.9" width="4.5" height="4.1" fill="#fff"/>
<rect x="615.80" y="511.2" width="0.6" height="5.6" fill="#6a6a6a"/>
<rect x="617.92" y="511.9" width="4.5" height="4.1" fill="#fff"/>
<rect x="623.92" y="511.2" width="0.6" height="5.6" fill="#6a6a6a"/>
<rect x="626.04" y="511.9" width="4.5" height="4.1" fill="#fff"/>
<rect x="632.04" y="511.2" width="0.6" height="5.6" fill="#6a6a6a"/>
<rect x="634.16" y="511.9" width="4.5" height="4.1" fill="#fff"/>
<rect x="640.16" y="511.2" width="0.6" height="5.6" fill="#6a6a6a"/>
<rect x="642.28" y="511.9" width="4.5" height="4.1" fill="#fff"/>
<rect x="580.5" y="506.5" width="2.4" height="3.8" fill="#1b1b1b"/>
</svg></body></html>
